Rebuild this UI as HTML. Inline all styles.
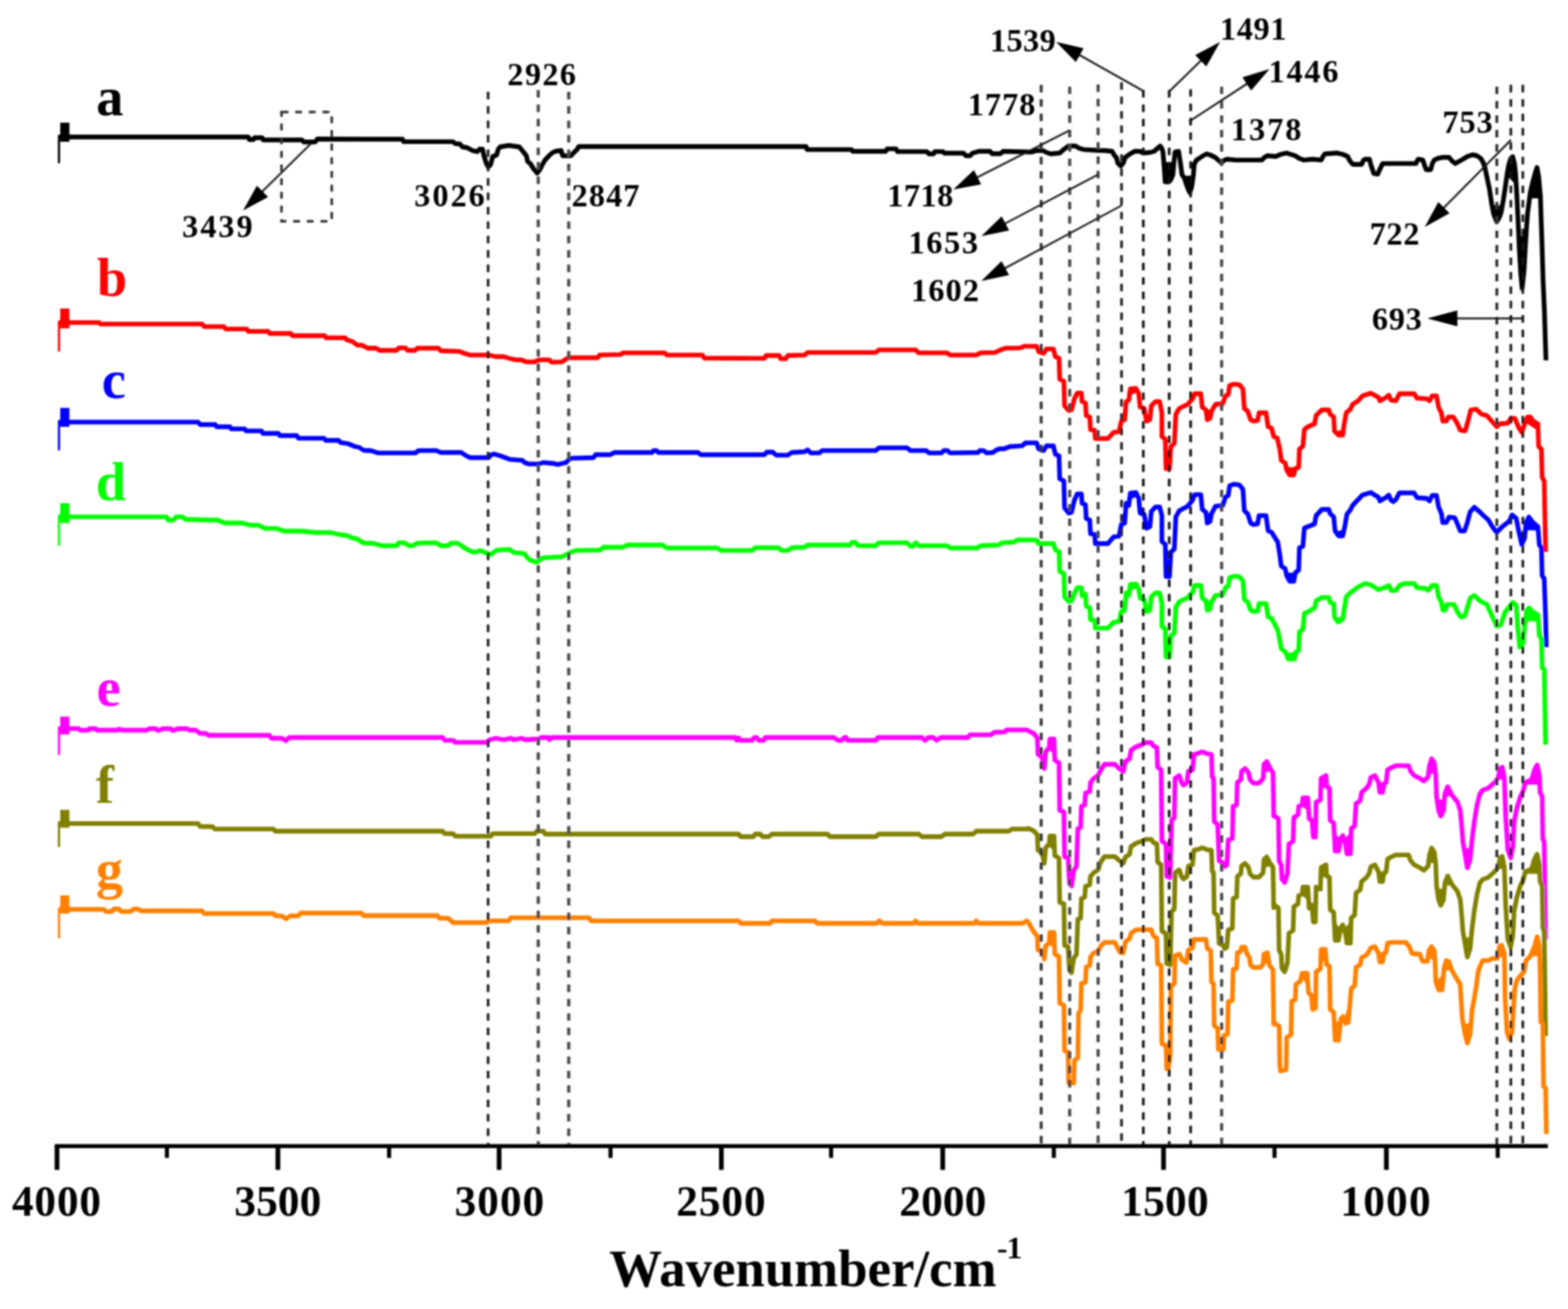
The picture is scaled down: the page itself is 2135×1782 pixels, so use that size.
<!DOCTYPE html>
<html lang="en"><head><meta charset="utf-8"><title>FTIR spectra</title>
<style>html,body{margin:0;padding:0;background:#fff}svg{display:block}text{font-family:"Liberation Serif","DejaVu Serif",serif;font-weight:bold;fill:#000}.n{font-size:44px}.t{font-size:59px}.l{font-size:74px}</style></head><body>
<svg width="2135" height="1782" viewBox="0 0 2135 1782">
<rect width="2135" height="1782" fill="#fff"/>
<defs><filter id="soft" filterUnits="userSpaceOnUse" x="0" y="0" width="2135" height="1782"><feGaussianBlur stdDeviation="0.8"/></filter></defs>
<g filter="url(#soft)">
<g fill="none" stroke-linejoin="round" stroke-linecap="butt">
<line x1="80.3" y1="184.0" x2="80.3" y2="222.2" stroke="#000000" stroke-width="3"/>
<rect x="82" y="167.0" width="12.5" height="26.0" fill="#000000" stroke="none"/>
<polyline points="80.0,186.5 94.0,186.5 338.0,186.5 339.5,190.0 345.0,190.0 346.5,187.5 357.0,187.5 358.5,190.5 411.0,190.5 414.0,193.3 429.0,193.3 432.0,189.3 548.0,189.5 549.5,192.9 616.7,192.9 620.0,195.5 626.0,196.0 629.8,200.0 636.0,201.0 642.9,204.8 650.0,206.5 653.0,203.0 657.0,203.0 659.0,212.0 662.0,222.0 664.8,227.4 668.0,224.0 671.0,213.0 676.2,211.0 678.5,203.0 681.0,200.0 692.9,198.0 707.0,200.0 712.0,206.0 716.7,212.0 718.5,220.0 722.0,222.5 726.0,229.0 731.4,235.7 735.0,231.0 738.0,225.0 742.0,218.0 747.6,212.0 752.0,208.0 756.0,206.0 764.0,204.8 766.0,212.0 777.4,212.0 781.0,208.0 785.7,203.6 788.0,199.5 1097.6,199.5 1099.0,203.6 1159.5,203.6 1161.0,206.0 1206.0,206.0 1208.0,202.6 1220.0,202.6 1222.0,206.4 1262.0,206.4 1265.0,209.5 1271.0,209.5 1273.0,206.4 1284.0,206.4 1286.0,208.5 1312.0,208.5 1315.0,212.0 1321.0,212.0 1324.0,208.5 1333.0,206.0 1348.0,206.0 1351.0,209.3 1362.0,209.3 1366.0,206.0 1404.8,207.0 1412.0,205.0 1420.0,205.0 1426.0,208.0 1431.0,209.5 1442.9,208.3 1449.0,203.0 1454.8,198.8 1464.3,198.8 1470.0,202.0 1476.0,203.6 1495.0,204.8 1505.0,205.0 1514.3,206.0 1517.0,211.0 1520.0,214.3 1522.0,222.0 1526.0,226.0 1529.5,222.0 1532.0,214.3 1538.0,210.0 1545.0,206.0 1552.0,206.0 1557.0,208.3 1566.0,207.5 1571.4,206.0 1576.0,202.0 1579.8,198.8 1582.0,202.0 1583.5,207.0 1585.0,225.0 1586.5,247.6 1591.0,247.6 1594.0,245.0 1597.0,238.0 1598.5,220.0 1600.0,207.0 1604.8,206.0 1607.0,220.0 1609.5,238.0 1613.0,243.0 1615.0,250.0 1618.0,258.0 1620.0,262.0 1622.5,255.0 1625.0,238.0 1626.0,223.8 1629.0,218.0 1633.0,215.5 1638.0,212.0 1643.0,209.5 1648.0,211.0 1654.8,214.3 1660.0,219.0 1663.0,221.4 1667.0,218.0 1670.7,216.7 1682.6,217.9 1718.0,217.9 1722.0,214.0 1725.5,212.0 1737.0,213.0 1744.0,210.0 1751.7,208.3 1757.0,210.0 1763.6,212.0 1769.0,215.5 1775.5,217.9 1787.4,216.7 1799.0,217.9 1802.0,212.0 1804.0,209.5 1820.7,208.3 1828.0,210.0 1835.0,213.0 1838.0,219.0 1842.0,223.8 1854.0,223.8 1856.5,218.0 1858.8,216.7 1864.7,216.7 1866.5,224.0 1868.0,228.6 1870.5,236.0 1876.0,237.0 1878.5,231.0 1882.6,222.6 1928.0,222.6 1930.0,218.0 1931.4,216.7 1937.4,217.9 1940.0,226.0 1942.0,231.0 1948.0,231.0 1950.5,222.0 1952.9,217.9 1958.0,215.5 1963.6,214.3 1973.0,214.3 1977.0,219.0 1981.4,222.6 1986.0,220.0 1992.0,216.7 1998.0,213.0 2005.0,210.7 2011.0,212.0 2016.0,215.5 2019.5,221.0 2022.0,228.6 2025.0,243.0 2028.0,257.0 2031.0,277.0 2034.0,292.0 2038.0,302.0 2041.5,296.0 2044.0,289.0 2047.0,272.0 2049.5,255.5 2052.0,238.0 2054.0,225.8 2057.0,216.0 2059.7,213.3 2062.0,222.0 2063.5,235.0 2065.4,267.0 2067.0,300.0 2068.5,335.0 2070.5,370.0 2072.5,392.4 2075.0,370.0 2077.0,335.0 2078.5,310.0 2080.0,289.7 2082.0,275.0 2083.7,262.0 2086.0,252.0 2088.0,244.0 2090.5,235.0 2092.8,228.0 2095.0,240.0 2097.4,267.0 2098.5,300.0 2099.7,335.0 2101.0,380.0 2103.0,426.6 2104.0,460.0 2105.0,490.5" stroke="#000000" stroke-width="6.4"/>
<polygon points="1584.7,221.8 1584.8,223.0 1584.9,224.2 1585.0,225.4 1585.1,226.6 1585.2,227.8 1585.3,229.0 1585.3,230.2 1585.4,231.5 1585.5,232.7 1585.6,233.9 1585.7,235.1 1585.8,236.3 1585.8,237.5 1585.9,238.7 1586.0,239.9 1586.1,241.1 1586.2,242.4 1586.2,243.6 1586.3,244.8 1586.4,246.0 1586.5,247.2 1587.3,247.6 1588.5,247.6 1589.8,247.6 1591.0,247.6 1592.0,246.7 1593.0,245.9 1594.0,245.0 1594.5,243.9 1594.9,242.8 1595.4,241.7 1595.9,240.6 1596.4,239.5 1596.8,238.4 1597.1,237.2 1597.2,236.0 1597.3,234.8 1597.4,233.6 1597.5,232.4 1597.6,231.2 1597.7,230.0 1597.8,228.8 1597.9,227.6 1598.0,226.4 1598.1,225.2 1598.2,224.0 1598.3,222.8 1598.4,221.6 1598.4,221.6" fill="#000000" stroke="#000000" stroke-width="1.5" stroke-linejoin="round"/>
<polygon points="1610.9,240.0 1611.6,241.0 1612.3,242.0 1613.0,243.0 1613.3,244.2 1613.7,245.3 1614.0,246.5 1614.3,247.7 1614.7,248.8 1615.0,250.0 1615.4,251.1 1615.9,252.3 1616.3,253.4 1616.7,254.6 1617.1,255.7 1617.6,256.9 1618.0,258.0 1618.5,259.1 1619.1,260.2 1619.6,261.3 1620.1,261.6 1620.6,260.4 1621.0,259.3 1621.4,258.1 1621.8,256.9 1622.2,255.8 1622.6,254.6 1622.7,253.4 1622.9,252.2 1623.1,251.0 1623.3,249.7 1623.5,248.5 1623.6,247.3 1623.8,246.1 1624.0,244.9 1624.2,243.7 1624.3,242.5 1624.5,241.2 1624.7,240.0 1624.7,240.0" fill="#000000" stroke="#000000" stroke-width="1.5" stroke-linejoin="round"/>
<polygon points="2031.6,280.2 2031.9,281.3 2032.1,282.5 2032.3,283.7 2032.6,284.9 2032.8,286.1 2033.1,287.3 2033.3,288.4 2033.5,289.6 2033.8,290.8 2034.0,292.0 2034.5,293.2 2034.9,294.3 2035.4,295.5 2035.8,296.6 2036.3,297.8 2036.8,298.9 2037.2,300.1 2037.7,301.2 2038.2,301.6 2038.8,300.6 2039.4,299.5 2040.1,298.5 2040.7,297.4 2041.3,296.4 2041.8,295.2 2042.2,294.1 2042.6,292.9 2043.0,291.7 2043.4,290.6 2043.9,289.4 2044.1,288.2 2044.3,287.0 2044.6,285.8 2044.8,284.7 2045.0,283.5 2045.2,282.3 2045.4,281.1 2045.5,280.3" fill="#000000" stroke="#000000" stroke-width="1.5" stroke-linejoin="round"/>
<polygon points="2052.0,238.0 2052.2,236.8 2052.4,235.6 2052.6,234.3 2052.8,233.1 2053.0,231.9 2053.2,230.7 2053.4,229.5 2053.6,228.2 2053.8,227.0 2054.0,225.8 2054.4,224.6 2054.7,223.4 2055.1,222.3 2055.4,221.1 2055.8,219.9 2056.2,218.7 2056.5,217.6 2056.9,216.4 2057.6,215.4 2058.5,214.5 2059.4,213.6 2059.9,214.1 2060.2,215.3 2060.5,216.5 2060.8,217.7 2061.2,218.8 2061.5,220.0 2061.8,221.2 2062.0,222.4 2062.2,223.6 2062.3,224.8 2062.5,226.1 2062.6,227.3 2062.8,228.5 2062.9,229.7 2063.0,230.9 2063.2,232.2 2063.3,233.4 2063.5,234.6 2063.5,235.8 2063.6,237.0 2063.7,238.2 2063.8,239.4 2063.8,240.6 2063.9,241.8 2064.0,243.0 2064.0,244.2 2064.1,245.4 2064.2,246.6 2064.3,247.8 2064.3,249.0 2064.4,250.2 2064.4,251.0" fill="#000000" stroke="#000000" stroke-width="1.5" stroke-linejoin="round"/>
<polygon points="2068.0,322.5 2068.0,323.7 2068.1,324.9 2068.1,326.1 2068.2,327.4 2068.2,328.6 2068.3,329.8 2068.3,331.0 2068.4,332.2 2068.4,333.4 2068.5,334.6 2068.5,335.8 2068.6,337.0 2068.7,338.2 2068.8,339.4 2068.8,340.6 2068.9,341.8 2069.0,343.0 2069.0,344.3 2069.1,345.5 2069.2,346.7 2069.2,347.9 2069.3,349.1 2069.4,350.3 2069.4,351.5 2069.5,352.7 2069.6,353.9 2069.6,355.1 2069.7,356.3 2069.8,357.5 2069.9,358.7 2069.9,359.9 2070.0,361.1 2070.1,362.4 2070.1,363.6 2070.2,364.8 2070.3,366.0 2070.3,367.2 2070.4,368.4 2070.5,369.6 2070.6,370.8 2070.7,372.0 2070.8,373.2 2070.9,374.4 2071.0,375.6 2071.1,376.8 2071.2,378.0 2071.3,379.2 2071.4,380.4 2071.5,381.6 2071.6,382.8 2071.8,384.0 2071.9,385.2 2072.0,386.4 2072.1,387.6 2072.2,388.8 2072.3,390.0 2072.4,391.2 2072.5,392.4 2072.6,391.2 2072.8,390.0 2072.9,388.8 2073.0,387.6 2073.2,386.4 2073.3,385.2 2073.4,384.0 2073.6,382.8 2073.7,381.6 2073.8,380.4 2074.0,379.2 2074.1,378.0 2074.2,376.8 2074.4,375.6 2074.5,374.4 2074.6,373.2 2074.8,372.0 2074.9,370.8 2075.0,369.6 2075.1,368.4 2075.2,367.2 2075.2,366.0 2075.3,364.8 2075.4,363.6 2075.4,362.4 2075.5,361.1 2075.6,359.9 2075.6,358.7 2075.7,357.5 2075.8,356.3 2075.9,355.1 2075.9,353.9 2076.0,352.7 2076.1,351.5 2076.1,350.3 2076.2,349.1 2076.3,347.9 2076.3,346.7 2076.4,345.5 2076.5,344.3 2076.5,343.0 2076.6,341.8 2076.7,340.6 2076.7,339.4 2076.8,338.2 2076.9,337.0 2077.0,335.8 2077.0,334.6 2077.1,333.4 2077.2,332.2 2077.2,331.0 2077.3,329.8 2077.4,328.5 2077.5,327.3 2077.5,326.1 2077.6,324.9 2077.7,323.7 2077.8,322.5 2077.8,322.5" fill="#000000" stroke="#000000" stroke-width="1.5" stroke-linejoin="round"/>
<line x1="80.3" y1="437.0" x2="80.3" y2="478.5" stroke="#ff0000" stroke-width="3"/>
<rect x="82" y="420.0" width="12.5" height="27.0" fill="#ff0000" stroke="none"/>
<polyline points="80.0,439.2 94.0,439.2 135.0,439.2 136.5,441.2 275.3,441.2 278.0,444.7 305.0,444.7 307.0,447.8 336.0,447.8 338.0,451.2 365.0,451.2 367.0,454.0 396.0,454.0 398.0,457.0 442.0,457.0 444.0,459.8 470.0,459.8 472.0,462.6 480.0,465.0 486.4,469.8 493.0,470.0 500.7,474.0 512.0,474.0 517.0,477.0 540.0,477.0 543.0,473.6 552.0,473.6 555.0,477.0 565.0,477.0 568.5,474.0 597.0,474.0 600.0,477.5 625.5,478.4 632.0,481.0 639.8,483.3 665.4,483.3 675.0,485.5 685.4,485.5 694.0,488.0 702.5,489.8 710.0,490.0 716.8,492.7 728.0,492.7 733.9,489.8 748.0,489.8 751.0,493.2 765.0,492.7 769.0,490.0 773.8,487.0 813.7,487.0 816.6,483.3 845.0,482.7 848.0,480.4 905.0,480.4 907.9,483.3 956.4,483.3 959.0,487.5 1041.0,487.8 1043.0,484.0 1061.0,484.0 1063.0,488.4 1070.0,488.4 1072.6,484.0 1095.5,483.3 1099.7,479.8 1192.4,479.8 1196.7,476.4 1246.6,476.4 1251.0,480.4 1289.4,480.4 1293.7,483.3 1329.0,483.3 1335.0,480.4 1355.0,479.8 1360.7,477.0 1369.0,474.0 1389.0,473.6 1395.0,471.3 1400.0,471.3 1400.0,471.4 1411.4,471.4 1414.3,479.0 1421.0,481.0 1424.8,475.2 1434.3,475.2 1437.0,485.7 1442.0,487.6 1442.9,516.2 1448.6,519.0 1449.5,552.4 1455.2,559.0 1459.0,558.0 1462.9,542.9 1466.7,535.2 1472.4,535.2 1473.3,546.7 1478.0,548.6 1479.0,565.7 1483.8,567.6 1484.8,584.8 1490.5,585.7 1491.4,597.0 1508.6,597.0 1516.2,588.6 1523.8,587.6 1526.7,573.3 1531.4,571.4 1533.3,546.7 1537.0,544.8 1539.0,529.5 1546.7,528.6 1550.5,536.0 1552.4,554.3 1558.0,556.0 1561.0,573.3 1565.7,571.4 1567.6,552.4 1573.3,546.7 1579.0,546.7 1582.0,562.0 1582.0,594.3 1586.7,598.0 1587.6,638.0 1592.4,638.0 1594.3,607.6 1599.0,603.8 1601.0,563.8 1605.7,556.0 1617.0,550.5 1623.8,542.9 1626.7,536.0 1635.0,536.0 1637.0,554.3 1642.0,558.0 1643.8,571.4 1647.6,569.5 1649.5,560.0 1655.0,550.5 1664.8,549.5 1668.6,539.0 1672.4,537.0 1674.3,524.8 1680.0,522.9 1687.6,523.8 1692.4,529.5 1694.3,556.0 1699.0,560.0 1702.9,571.4 1706.7,573.3 1712.4,572.4 1714.3,562.0 1723.8,562.0 1726.7,581.0 1731.4,582.9 1734.3,594.3 1739.0,596.2 1742.6,611.4 1744.5,626.7 1750.0,630.5 1752.0,640.0 1756.0,646.7 1761.7,646.7 1763.6,638.0 1768.3,636.2 1769.3,611.4 1774.0,607.6 1776.0,584.8 1780.7,581.0 1790.0,577.0 1792.0,565.7 1799.8,558.0 1809.3,558.0 1811.0,563.8 1816.0,567.6 1817.0,586.7 1822.6,592.4 1828.3,592.4 1830.0,579.0 1833.0,562.0 1838.8,557.0 1841.7,550.5 1849.3,545.7 1855.0,539.0 1866.4,535.2 1877.0,541.0 1878.8,545.7 1887.4,541.0 1891.0,538.0 1894.0,544.8 1900.7,545.7 1905.5,536.0 1925.5,536.0 1929.3,542.0 1942.6,542.9 1946.4,545.7 1950.0,539.0 1956.0,539.0 1958.8,554.3 1962.6,562.0 1964.5,573.3 1969.3,573.3 1972.0,567.6 1978.8,567.6 1984.5,577.0 1988.3,585.7 1995.0,586.7 1998.8,573.3 2002.6,558.0 2010.0,557.0 2017.0,563.8 2024.5,565.7 2032.0,574.3 2037.9,581.0 2041.7,577.0 2053.0,576.2 2057.0,569.5 2062.6,569.5 2067.4,581.0 2072.0,588.6 2076.0,577.0 2079.8,567.6 2083.6,567.6 2087.4,573.3 2094.0,577.0 2095.0,607.6 2098.8,611.4 2099.8,649.5 2102.6,655.2 2103.6,706.7 2104.5,751.4" stroke="#ff0000" stroke-width="6.3"/>
<polygon points="1642.1,558.4 1642.2,559.6 1642.4,560.8 1642.5,562.1 1642.7,563.3 1642.9,564.5 1643.0,565.7 1643.2,566.9 1643.4,568.2 1643.5,569.4 1643.7,570.6 1644.2,571.2 1645.3,570.6 1646.5,570.1 1647.6,569.5 1647.8,568.3 1648.1,567.1 1648.3,565.9 1648.5,564.8 1648.8,563.6 1649.0,562.4 1649.3,561.2 1649.5,560.0 1650.1,558.9 1650.3,558.6" fill="#ff0000" stroke="#ff0000" stroke-width="1.5" stroke-linejoin="round"/>
<polygon points="1537.9,537.6 1538.1,536.3 1538.3,535.1 1538.4,533.9 1538.6,532.7 1538.7,531.5 1538.9,530.3 1539.4,529.5 1540.6,529.3 1541.8,529.2 1543.1,529.0 1544.3,528.9 1545.5,528.7 1546.7,528.6 1547.3,529.7 1547.8,530.8 1548.4,531.9 1549.0,533.0 1549.0,533.0" fill="#ff0000" stroke="#ff0000" stroke-width="1.5" stroke-linejoin="round"/>
<polygon points="1751.2,636.0 1751.4,637.2 1751.7,638.4 1751.9,639.6 1752.4,640.7 1753.1,641.8 1753.7,642.8 1754.3,643.9 1754.9,644.9 1755.6,646.0 1756.4,646.7 1757.6,646.7 1758.8,646.7 1760.1,646.7 1761.3,646.7 1761.9,645.9 1762.1,644.7 1762.4,643.5 1762.7,642.4 1762.9,641.2 1763.2,640.0 1763.4,638.8 1764.0,637.9 1764.8,637.5" fill="#ff0000" stroke="#ff0000" stroke-width="1.5" stroke-linejoin="round"/>
<polygon points="1819.1,588.8 1819.9,589.7 1820.8,590.6 1821.7,591.5 1822.6,592.4 1823.8,592.4 1825.0,592.4 1826.3,592.4 1827.5,592.4 1828.4,592.0 1828.5,590.8 1828.7,589.6 1828.8,588.3 1829.0,587.1 1829.1,585.9 1829.3,584.7 1829.3,584.7" fill="#ff0000" stroke="#ff0000" stroke-width="1.5" stroke-linejoin="round"/>
<polygon points="2077.1,574.4 2077.5,573.2 2078.0,572.1 2078.4,571.0 2078.9,569.9 2079.3,568.7 2079.8,567.6 2081.1,567.6 2082.3,567.6 2083.6,567.6 2084.3,568.6 2084.9,569.6 2085.6,570.6 2086.3,571.6 2087.0,572.6 2087.8,573.5 2088.9,574.1 2090.0,574.7 2091.1,575.4 2092.2,576.0 2093.3,576.6 2094.0,577.4 2094.1,578.6 2094.1,579.8 2094.1,581.0 2094.2,582.2 2094.2,583.4 2094.2,584.6 2094.3,585.5" fill="#ff0000" stroke="#ff0000" stroke-width="1.5" stroke-linejoin="round"/>
<line x1="80.3" y1="572.3" x2="80.3" y2="613.2" stroke="#0000ff" stroke-width="3"/>
<rect x="82" y="555.3" width="12.5" height="25.7" fill="#0000ff" stroke="none"/>
<polyline points="80.0,574.7 94.0,574.7 269.6,574.7 272.5,578.0 293.0,578.0 295.0,581.0 313.0,581.0 315.0,583.9 333.0,583.9 335.0,586.7 356.0,586.7 358.0,590.0 379.0,590.0 381.0,593.0 404.0,593.0 406.5,596.7 441.0,596.7 443.6,599.5 461.0,599.5 463.6,602.4 474.0,604.0 483.5,608.0 489.0,609.0 495.0,613.0 505.0,613.5 515.0,616.7 565.6,616.7 570.0,613.3 594.0,613.3 600.0,616.0 628.0,616.0 634.0,620.0 639.8,623.0 665.4,623.0 669.0,619.0 672.6,618.0 682.5,621.0 694.0,625.3 711.0,626.7 715.0,630.0 719.6,631.6 733.9,631.6 739.6,629.6 753.9,631.0 759.6,632.4 765.0,631.0 771.0,629.6 774.0,626.0 776.7,623.9 808.0,623.0 810.9,619.0 830.9,619.0 836.6,616.0 887.9,616.0 890.0,613.3 894.0,613.3 896.5,616.0 950.7,616.0 954.0,619.0 1041.0,619.0 1044.0,615.5 1052.0,615.5 1057.0,619.6 1072.6,619.6 1078.0,616.0 1095.5,615.0 1099.7,612.5 1104.0,616.7 1115.4,616.7 1119.7,613.3 1192.4,613.3 1196.7,609.6 1235.0,609.6 1239.5,613.3 1261.0,613.3 1265.0,616.7 1282.0,616.7 1285.0,613.3 1290.0,613.3 1293.7,616.7 1332.0,616.0 1334.0,613.3 1339.0,613.3 1343.6,616.7 1352.0,616.0 1356.0,613.0 1360.7,611.0 1367.0,611.0 1375.0,608.0 1392.0,606.8 1396.0,603.0 1400.0,603.0 1400.0,602.9 1411.4,602.9 1414.3,611.2 1421.0,613.4 1424.8,607.0 1434.3,607.0 1437.0,618.5 1442.0,620.6 1442.9,651.8 1448.6,654.8 1449.5,691.3 1455.2,698.5 1459.0,697.4 1462.9,680.9 1466.7,672.5 1472.4,672.5 1473.3,685.1 1478.0,687.2 1479.0,705.8 1483.8,707.9 1484.8,726.7 1490.5,727.7 1491.4,740.0 1508.6,740.0 1516.2,730.9 1523.8,729.8 1526.7,714.1 1531.4,712.1 1533.3,685.1 1537.0,688.0 1539.0,671.3 1546.7,670.3 1550.5,678.4 1552.4,698.4 1558.0,700.3 1561.0,719.1 1565.7,717.1 1567.6,696.3 1573.3,690.1 1579.0,690.1 1582.0,701.8 1582.0,737.1 1586.7,741.1 1587.6,784.8 1592.4,784.8 1594.3,751.6 1599.0,747.4 1601.0,703.8 1605.7,695.3 1617.0,689.2 1623.8,680.9 1626.7,673.4 1635.0,673.4 1637.0,693.4 1642.0,697.4 1643.8,712.1 1647.6,710.0 1649.5,699.6 1655.0,689.2 1664.8,688.2 1668.6,676.7 1672.4,674.5 1674.3,661.2 1680.0,659.1 1687.6,660.1 1692.4,666.3 1694.3,695.3 1699.0,699.6 1702.9,712.1 1706.7,714.1 1712.4,713.2 1714.3,701.8 1723.8,701.8 1726.7,722.6 1731.4,724.6 1739.8,738.0 1742.6,755.0 1744.5,770.5 1750.0,774.3 1752.0,783.8 1756.0,791.4 1761.7,791.4 1763.6,780.0 1768.3,776.0 1769.3,745.7 1774.0,743.8 1776.0,719.0 1780.7,717.0 1790.0,713.3 1792.0,702.0 1799.8,693.5 1809.3,693.5 1811.0,699.0 1816.0,703.8 1817.9,722.9 1822.6,729.5 1828.3,729.5 1831.0,717.0 1834.0,700.0 1838.8,694.0 1841.7,688.0 1849.3,680.0 1855.0,674.0 1866.4,670.5 1877.0,677.0 1878.8,682.0 1887.4,677.0 1891.0,674.0 1894.0,681.0 1897.0,683.0 1900.7,680.0 1905.5,671.0 1925.5,671.0 1929.3,677.5 1942.6,678.5 1946.4,682.0 1950.0,674.5 1956.0,674.5 1958.8,690.0 1962.6,699.0 1964.5,711.4 1969.3,711.4 1973.0,703.8 1980.7,704.8 1984.5,713.3 1988.3,722.9 1994.0,722.9 1997.9,711.4 2001.7,697.0 2007.4,690.5 2015.0,697.0 2020.0,702.0 2026.4,707.6 2032.0,717.0 2037.9,724.8 2045.5,717.0 2055.0,709.5 2058.8,701.0 2064.5,705.7 2068.3,724.8 2072.0,741.0 2076.0,732.4 2077.9,711.4 2081.7,703.8 2087.4,711.4 2094.0,717.0 2096.0,742.0 2098.8,745.7 2099.8,783.8 2102.6,787.6 2104.5,841.0 2105.5,881.0" stroke="#0000ff" stroke-width="6.3"/>
<polygon points="1642.2,699.5 1642.4,700.7 1642.5,701.9 1642.7,703.1 1642.8,704.3 1643.0,705.6 1643.1,706.8 1643.3,708.0 1643.5,709.2 1643.6,710.4 1643.8,711.7 1644.6,711.7 1645.7,711.0 1646.8,710.4 1647.7,709.6 1647.9,708.4 1648.1,707.2 1648.3,706.0 1648.5,704.8 1648.8,703.6 1649.0,702.4 1649.2,701.2 1649.4,700.0 1649.7,699.3" fill="#0000ff" stroke="#0000ff" stroke-width="1.5" stroke-linejoin="round"/>
<polygon points="1538.0,679.3 1538.2,678.1 1538.3,676.9 1538.5,675.7 1538.6,674.5 1538.8,673.3 1538.9,672.1 1539.4,671.3 1540.6,671.1 1541.8,671.0 1543.1,670.8 1544.3,670.6 1545.5,670.5 1546.7,670.3 1547.2,671.4 1547.7,672.5 1548.3,673.6 1548.8,674.7 1548.9,675.1" fill="#0000ff" stroke="#0000ff" stroke-width="1.5" stroke-linejoin="round"/>
<polygon points="1751.3,780.6 1751.6,781.8 1751.8,783.0 1752.2,784.2 1752.8,785.2 1753.3,786.3 1753.9,787.4 1754.5,788.5 1755.0,789.6 1755.6,790.7 1756.4,791.4 1757.6,791.4 1758.8,791.4 1760.1,791.4 1761.3,791.4 1761.8,790.6 1762.0,789.4 1762.2,788.1 1762.4,786.9 1762.7,785.7 1762.9,784.5 1763.1,783.3 1763.3,782.0 1763.5,780.8 1763.5,780.4" fill="#0000ff" stroke="#0000ff" stroke-width="1.5" stroke-linejoin="round"/>
<polygon points="1819.1,724.5 1819.8,725.5 1820.5,726.5 1821.2,727.5 1821.9,728.5 1822.6,729.5 1823.8,729.5 1825.0,729.5 1826.3,729.5 1827.5,729.5 1828.4,729.1 1828.6,727.9 1828.9,726.7 1829.2,725.5 1829.4,724.3 1829.7,723.0 1830.0,721.8 1830.0,721.8" fill="#0000ff" stroke="#0000ff" stroke-width="1.5" stroke-linejoin="round"/>
<polygon points="2077.0,721.1 2077.1,719.9 2077.2,718.7 2077.4,717.5 2077.5,716.2 2077.6,715.0 2077.7,713.8 2077.8,712.6 2077.9,711.4 2078.4,710.3 2079.0,709.2 2079.5,708.1 2080.1,707.1 2080.6,706.0 2081.2,704.9 2081.7,703.8 2082.4,704.8 2083.2,705.8 2083.9,706.8 2084.7,707.8 2085.4,708.8 2086.2,709.7 2086.9,710.7 2087.7,711.7 2088.7,712.5 2089.6,713.3 2090.5,714.1 2091.5,714.9 2092.4,715.7 2093.4,716.5 2094.0,717.4 2094.1,718.6 2094.2,719.8 2094.3,721.0 2094.4,721.4" fill="#0000ff" stroke="#0000ff" stroke-width="1.5" stroke-linejoin="round"/>
<line x1="80.3" y1="701.0" x2="80.3" y2="742.8" stroke="#00ff00" stroke-width="3"/>
<rect x="82" y="685.0" width="12.5" height="27.0" fill="#00ff00" stroke="none"/>
<polyline points="80.0,703.6 94.0,703.6 226.8,703.6 229.0,708.0 236.0,708.0 240.0,703.6 248.0,703.6 252.5,707.0 286.7,708.0 296.0,708.0 306.7,712.0 330.0,712.0 341.0,715.0 352.0,715.0 361.0,719.3 376.0,719.3 386.6,723.0 410.0,723.0 429.4,725.0 450.0,725.0 463.6,728.0 472.0,729.0 480.7,732.7 487.0,734.0 495.0,739.3 507.0,739.5 520.0,742.8 540.0,742.8 543.0,738.8 550.0,738.8 557.0,742.8 562.0,742.8 568.5,739.4 594.0,738.8 600.0,742.8 610.0,742.8 614.0,739.4 622.6,739.4 627.0,742.0 631.0,745.0 638.0,749.0 645.5,752.0 654.0,749.4 660.0,752.0 668.0,755.0 672.0,752.0 676.8,748.8 694.0,748.0 699.7,752.2 714.0,753.6 717.0,758.0 721.0,762.0 726.0,764.0 731.0,765.6 735.0,762.0 739.6,759.3 765.0,758.0 769.0,756.0 773.8,753.6 779.0,751.0 785.0,749.4 816.6,748.8 822.0,745.0 848.0,745.0 853.7,742.0 902.0,742.0 907.9,746.0 976.0,746.0 982.0,749.4 1024.0,749.4 1028.4,745.7 1059.8,745.7 1064.0,749.4 1073.0,749.4 1078.0,745.7 1095.5,745.0 1099.7,742.0 1156.8,742.0 1160.0,738.5 1165.0,738.5 1168.0,742.8 1192.4,742.8 1196.7,738.8 1235.0,738.8 1239.5,743.7 1243.0,743.7 1246.6,738.8 1251.0,742.8 1289.4,742.8 1293.7,746.0 1330.8,746.0 1335.0,742.8 1359.0,742.0 1365.0,738.8 1380.7,738.0 1385.0,735.0 1400.0,735.0 1400.0,735.2 1411.4,735.2 1414.3,740.0 1421.0,740.0 1424.8,740.0 1434.3,740.0 1437.0,748.9 1442.0,750.7 1442.9,778.0 1448.6,780.7 1449.5,812.6 1455.2,818.9 1459.0,817.9 1462.9,807.5 1466.7,800.1 1472.4,800.1 1473.3,811.1 1478.0,808.9 1479.0,825.3 1483.8,827.1 1484.8,843.5 1490.5,844.4 1491.4,855.1 1508.6,855.1 1516.2,847.1 1523.8,846.2 1526.7,832.5 1531.4,830.7 1533.3,807.1 1537.0,810.3 1539.0,795.7 1546.7,794.8 1550.5,801.9 1552.4,814.4 1558.0,816.0 1561.0,832.5 1565.7,830.7 1567.6,812.6 1573.3,807.1 1579.0,807.1 1582.0,821.7 1582.0,852.6 1586.7,856.1 1587.6,894.3 1592.4,894.3 1594.3,865.3 1599.0,861.6 1601.0,826.4 1605.7,819.0 1617.0,813.7 1623.8,806.5 1626.7,796.9 1635.0,796.9 1637.0,814.4 1642.0,817.9 1643.8,830.7 1647.6,828.9 1649.5,819.8 1655.0,810.7 1664.8,809.8 1668.6,799.8 1672.4,797.8 1674.3,786.2 1680.0,784.4 1687.6,785.2 1692.4,790.7 1694.3,816.0 1699.0,819.8 1702.9,830.7 1706.7,832.5 1712.4,831.7 1714.3,821.7 1723.8,821.7 1726.7,839.9 1731.4,841.7 1739.8,858.0 1742.6,871.4 1744.5,882.9 1750.0,887.6 1754.0,897.0 1762.6,897.0 1764.5,887.6 1768.3,885.7 1769.3,860.0 1774.0,857.0 1776.0,835.0 1780.7,833.0 1790.0,827.6 1792.0,818.0 1799.8,813.3 1809.3,813.3 1811.0,820.0 1816.0,822.0 1817.0,840.0 1821.7,846.7 1828.3,842.9 1830.0,831.4 1833.0,812.4 1838.8,806.7 1849.3,799.0 1858.8,794.3 1866.4,796.2 1877.0,802.9 1887.4,799.0 1891.0,797.0 1894.0,803.8 1900.7,803.8 1905.5,797.0 1912.0,794.3 1925.5,794.3 1929.3,800.0 1940.7,801.0 1944.5,803.8 1950.0,797.0 1956.0,797.0 1958.8,812.4 1962.6,820.0 1964.5,830.5 1968.0,830.5 1970.0,822.9 1979.8,822.9 1984.5,833.3 1989.3,840.0 1994.0,839.0 1997.9,827.6 2001.7,814.3 2007.4,810.5 2015.0,818.0 2024.5,822.9 2030.0,835.0 2037.9,852.4 2043.6,850.5 2049.3,833.3 2056.9,823.8 2059.8,820.0 2064.5,823.8 2066.4,852.4 2069.3,881.0 2074.0,875.0 2076.0,852.4 2078.8,831.4 2081.7,827.6 2087.4,833.3 2094.0,837.0 2096.0,865.7 2098.8,869.5 2099.8,909.5 2102.6,911.4 2103.6,966.7 2104.5,1013.8" stroke="#00ff00" stroke-width="6.3"/>
<polygon points="1642.0,817.9 1642.2,819.1 1642.3,820.3 1642.5,821.5 1642.7,822.7 1642.8,823.9 1643.0,825.1 1643.2,826.3 1643.3,827.5 1643.5,828.7 1643.7,829.9 1644.2,830.5 1645.3,830.0 1646.5,829.4 1647.6,828.9 1647.8,827.7 1648.1,826.5 1648.3,825.3 1648.6,824.2 1648.8,823.0 1649.1,821.8 1649.3,820.6 1649.7,819.5 1650.3,818.4 1650.3,818.4" fill="#00ff00" stroke="#00ff00" stroke-width="1.5" stroke-linejoin="round"/>
<polygon points="1537.9,803.8 1538.1,802.6 1538.2,801.4 1538.4,800.2 1538.6,798.9 1538.7,797.7 1538.9,796.5 1539.4,795.6 1540.6,795.5 1541.8,795.4 1543.1,795.2 1544.3,795.1 1545.5,795.0 1546.7,794.8 1547.3,795.9 1547.8,796.9 1548.4,798.0 1549.0,799.1 1549.0,799.1" fill="#00ff00" stroke="#00ff00" stroke-width="1.5" stroke-linejoin="round"/>
<polygon points="1751.1,890.2 1751.6,891.4 1752.1,892.5 1752.6,893.6 1753.0,894.7 1753.5,895.9 1754.0,897.0 1755.2,897.0 1756.5,897.0 1757.7,897.0 1758.9,897.0 1760.1,897.0 1761.4,897.0 1762.6,897.0 1762.8,895.8 1763.1,894.5 1763.3,893.3 1763.6,892.1 1763.8,890.9 1764.1,889.6 1764.3,888.4 1764.9,887.4 1764.9,887.4" fill="#00ff00" stroke="#00ff00" stroke-width="1.5" stroke-linejoin="round"/>
<polygon points="1819.1,843.0 1819.8,844.0 1820.5,845.0 1821.2,846.0 1822.0,846.5 1823.1,845.9 1824.1,845.3 1825.2,844.7 1826.2,844.1 1827.3,843.5 1828.3,842.9 1828.5,841.7 1828.7,840.5 1828.8,839.3 1828.9,838.9" fill="#00ff00" stroke="#00ff00" stroke-width="1.5" stroke-linejoin="round"/>
<polygon points="2077.0,844.7 2077.2,843.5 2077.3,842.3 2077.5,841.1 2077.7,839.9 2077.8,838.7 2078.0,837.5 2078.2,836.2 2078.3,835.0 2078.5,833.8 2078.6,832.6 2078.8,831.4 2079.6,830.4 2080.4,829.3 2081.2,828.3 2082.0,827.9 2082.8,828.7 2083.7,829.6 2084.6,830.5 2085.4,831.3 2086.3,832.2 2087.1,833.0 2088.1,833.7 2089.2,834.3 2090.3,834.9 2091.4,835.6 2092.5,836.2 2093.6,836.8 2094.1,837.8 2094.1,839.0 2094.2,840.2 2094.3,841.4 2094.4,842.7 2094.5,843.9 2094.6,845.1 2094.6,845.5" fill="#00ff00" stroke="#00ff00" stroke-width="1.5" stroke-linejoin="round"/>
<line x1="80.3" y1="989.0" x2="80.3" y2="1027.8" stroke="#ff00ff" stroke-width="3"/>
<rect x="82" y="975.6" width="12.5" height="24.2" fill="#ff00ff" stroke="none"/>
<polyline points="80.0,991.8 94.0,991.8 107.0,991.8 109.0,994.0 120.0,994.0 122.0,992.0 130.0,992.0 132.0,994.0 160.0,994.0 162.0,992.5 166.0,994.0 200.0,994.0 203.0,992.0 212.0,992.0 215.0,994.5 222.0,992.0 232.0,992.0 235.0,994.5 242.0,992.0 255.0,992.0 258.0,994.0 266.8,994.0 272.5,998.4 280.0,998.4 284.0,1001.0 366.6,1001.0 369.4,1005.0 383.7,1005.0 389.4,1008.4 393.7,1004.0 602.7,1004.0 605.5,1007.8 617.0,1007.8 619.8,1010.7 662.6,1010.7 666.9,1007.0 675.0,1005.0 686.0,1007.0 695.0,1005.0 699.7,1007.0 710.0,1005.0 715.0,1007.0 733.9,1006.0 736.7,1004.0 746.0,1004.0 748.0,1007.0 751.0,1004.0 1001.0,1004.0 1003.0,1007.8 1006.0,1004.5 1008.0,1007.8 1024.0,1007.8 1027.0,1004.0 1030.0,1004.0 1033.0,1007.8 1040.0,1007.8 1042.0,1004.0 1135.4,1004.0 1141.0,1007.8 1146.0,1007.8 1149.7,1004.0 1152.0,1004.0 1154.0,1007.8 1192.4,1007.8 1195.3,1004.0 1255.0,1004.0 1259.5,1007.8 1263.7,1004.0 1271.0,1004.0 1275.0,1007.8 1280.9,1004.0 1318.0,1004.0 1320.8,1000.4 1349.3,1000.4 1353.6,997.0 1367.9,996.4 1370.7,993.6 1397.8,993.6 1400.0,994.8 1400.0,994.8 1407.6,998.6 1412.4,1004.3 1413.3,1027.0 1419.0,1031.0 1421.9,1046.2 1423.8,1023.3 1428.6,1017.6 1429.5,1006.2 1435.2,1006.2 1436.2,1034.8 1441.9,1038.6 1442.9,1103.3 1448.6,1105.2 1449.5,1166.2 1454.3,1168.0 1456.2,1202.4 1459.0,1206.2 1462.0,1185.0 1465.7,1179.5 1467.6,1128.0 1471.4,1126.2 1472.4,1097.6 1477.0,1095.7 1478.0,1079.5 1483.8,1077.6 1484.8,1065.2 1489.5,1059.5 1495.2,1055.7 1499.0,1048.0 1503.8,1040.5 1518.0,1040.5 1523.8,1046.2 1529.5,1050.0 1532.4,1036.7 1538.0,1032.9 1540.0,1021.4 1546.7,1016.7 1554.3,1013.8 1560.0,1011.0 1567.6,1011.0 1570.5,1015.7 1575.2,1017.6 1576.2,1044.3 1581.0,1048.0 1582.0,1145.2 1587.6,1149.0 1588.6,1192.9 1593.3,1194.8 1594.3,1152.9 1595.2,1116.7 1599.0,1112.9 1600.0,1059.5 1605.7,1055.7 1608.6,1065.2 1611.4,1069.0 1616.2,1065.2 1618.0,1050.0 1623.8,1048.0 1625.7,1027.0 1632.4,1025.2 1637.0,1023.3 1643.8,1026.2 1649.5,1027.0 1650.5,1057.6 1652.4,1059.5 1653.3,1118.6 1658.0,1122.4 1660.0,1172.0 1665.7,1174.8 1667.6,1179.5 1670.5,1177.6 1672.4,1143.3 1678.0,1141.4 1679.0,1097.6 1683.8,1095.7 1684.8,1065.2 1689.5,1061.4 1690.5,1050.0 1695.2,1046.2 1700.0,1051.9 1702.0,1061.4 1706.7,1066.2 1714.3,1066.2 1720.0,1059.5 1721.0,1040.5 1724.8,1036.7 1729.5,1046.2 1733.3,1051.9 1734.3,1111.0 1736.0,1111.0 1740.7,1114.8 1741.7,1172.0 1744.5,1177.6 1745.5,1196.7 1749.3,1201.4 1753.0,1189.0 1755.0,1149.0 1760.7,1145.2 1761.7,1112.9 1767.4,1109.0 1768.3,1097.6 1773.0,1095.7 1774.0,1086.2 1780.7,1086.2 1782.6,1114.8 1786.4,1116.7 1788.3,1139.5 1791.0,1139.5 1792.0,1092.0 1797.9,1089.0 1798.8,1059.5 1805.5,1055.7 1806.4,1071.0 1810.2,1072.9 1811.2,1116.7 1816.0,1120.5 1817.9,1158.6 1822.6,1158.6 1825.5,1141.4 1828.3,1137.6 1832.0,1149.0 1834.0,1162.4 1838.8,1162.4 1839.8,1128.0 1844.5,1124.3 1846.4,1093.8 1852.0,1090.0 1854.0,1078.6 1860.7,1072.9 1864.5,1067.0 1866.4,1058.6 1872.0,1055.7 1877.0,1065.2 1878.8,1078.6 1882.6,1078.6 1884.5,1067.0 1887.4,1065.2 1889.3,1048.0 1894.0,1045.2 1900.7,1042.4 1917.9,1042.4 1920.7,1050.0 1925.5,1055.7 1933.0,1059.5 1938.8,1063.3 1944.5,1057.6 1946.4,1042.4 1949.3,1032.9 1953.0,1038.6 1955.0,1055.7 1956.0,1084.3 1958.8,1103.3 1961.7,1111.0 1965.5,1103.3 1967.4,1080.5 1971.2,1071.0 1976.9,1082.4 1984.5,1092.0 1988.3,1103.3 1990.2,1124.3 1992.0,1147.0 1995.0,1164.3 1997.9,1181.4 2001.7,1170.0 2004.5,1141.4 2007.4,1118.6 2011.2,1095.7 2015.0,1080.5 2018.8,1075.7 2026.4,1072.9 2034.0,1066.2 2039.8,1059.5 2042.6,1046.2 2045.5,1044.3 2048.3,1059.5 2050.2,1112.9 2053.0,1156.7 2056.9,1168.0 2059.8,1152.9 2061.7,1118.6 2065.5,1099.5 2070.2,1084.3 2074.0,1076.7 2076.9,1065.2 2085.5,1061.4 2089.3,1048.0 2093.0,1041.4 2096.0,1055.7 2096.9,1078.6 2099.8,1084.3 2100.7,1141.4 2102.6,1147.0 2103.6,1217.6 2104.5,1279.0" stroke="#ff00ff" stroke-width="6.3"/>
<polygon points="1427.0,1019.5 1427.8,1018.5 1428.6,1017.6 1428.7,1016.4 1428.8,1015.2 1428.9,1013.9 1429.0,1012.7 1429.1,1011.5 1429.2,1010.3 1429.3,1009.1 1429.4,1007.8 1429.5,1006.6 1430.3,1006.2 1431.5,1006.2 1432.8,1006.2 1434.0,1006.2 1435.2,1006.2 1435.2,1007.4 1435.3,1008.6 1435.3,1009.8 1435.4,1011.0 1435.4,1012.2 1435.5,1013.5 1435.5,1014.7 1435.5,1015.9 1435.6,1017.1 1435.6,1018.3 1435.7,1019.5 1435.7,1020.7 1435.7,1021.9 1435.8,1023.1 1435.8,1024.3 1435.9,1025.5 1435.9,1025.9" fill="#ff00ff" stroke="#ff00ff" stroke-width="1.5" stroke-linejoin="round"/>
<polygon points="1720.5,1050.6 1720.5,1049.4 1720.6,1048.2 1720.7,1047.0 1720.7,1045.8 1720.8,1044.5 1720.9,1043.3 1720.9,1042.1 1721.0,1040.9 1721.6,1039.9 1722.5,1039.0 1723.3,1038.2 1724.2,1037.3 1725.0,1037.1 1725.5,1038.2 1726.1,1039.3 1726.6,1040.4 1727.2,1041.5 1727.7,1042.5 1728.2,1043.6 1728.8,1044.7 1729.3,1045.8 1729.9,1046.9 1730.6,1047.9 1731.3,1048.9 1731.3,1048.9" fill="#ff00ff" stroke="#ff00ff" stroke-width="1.5" stroke-linejoin="round"/>
<polygon points="1772.2,1096.0 1773.0,1095.3 1773.2,1094.0 1773.3,1092.8 1773.4,1091.6 1773.6,1090.3 1773.7,1089.1 1773.8,1087.9 1774.0,1086.6 1774.8,1086.2 1776.1,1086.2 1777.3,1086.2 1778.6,1086.2 1779.9,1086.2 1780.7,1086.6 1780.8,1087.8 1780.9,1089.0 1781.0,1090.2 1781.0,1091.4 1781.1,1092.6 1781.2,1093.9 1781.3,1095.1 1781.4,1096.3 1781.4,1097.5 1781.5,1098.7 1781.6,1099.9 1781.7,1101.1 1781.8,1102.3 1781.9,1103.5 1781.9,1103.9" fill="#ff00ff" stroke="#ff00ff" stroke-width="1.5" stroke-linejoin="round"/>
<polygon points="1785.6,1116.3 1786.4,1117.1 1786.5,1118.3 1786.6,1119.5 1786.7,1120.7 1786.8,1121.9 1786.9,1123.1 1787.0,1124.3 1787.1,1125.5 1787.2,1126.7 1787.3,1127.9 1787.4,1129.1 1787.5,1130.3 1787.6,1131.5 1787.7,1132.7 1787.8,1133.9 1787.9,1135.1 1788.0,1136.3 1788.1,1137.5 1788.2,1138.7 1788.8,1139.5 1790.1,1139.5 1791.0,1139.1 1791.0,1137.9 1791.1,1136.7 1791.1,1135.5 1791.1,1134.3 1791.1,1133.1 1791.2,1131.9 1791.2,1130.6 1791.2,1129.4 1791.2,1128.2 1791.3,1127.0 1791.3,1125.8 1791.3,1124.6 1791.3,1123.4 1791.4,1122.2 1791.4,1121.0 1791.4,1119.8 1791.4,1118.6 1791.5,1117.4 1791.5,1116.2 1791.5,1115.8" fill="#ff00ff" stroke="#ff00ff" stroke-width="1.5" stroke-linejoin="round"/>
<polygon points="1798.4,1071.6 1798.5,1070.4 1798.5,1069.2 1798.5,1068.0 1798.6,1066.8 1798.6,1065.6 1798.7,1064.3 1798.7,1063.1 1798.7,1061.9 1798.8,1060.7 1798.8,1059.5 1799.9,1058.9 1800.9,1058.3 1802.0,1057.7 1803.0,1057.1 1804.1,1056.5 1805.1,1055.9 1805.5,1056.5 1805.6,1057.7 1805.7,1058.9 1805.8,1060.1 1805.8,1061.3 1805.9,1062.5 1806.0,1063.8 1806.0,1065.0 1806.1,1066.2 1806.2,1067.4 1806.3,1068.6 1806.3,1069.8 1806.4,1071.0 1807.5,1071.6 1807.5,1071.6" fill="#ff00ff" stroke="#ff00ff" stroke-width="1.5" stroke-linejoin="round"/>
<polygon points="1816.6,1132.9 1816.7,1134.1 1816.7,1135.3 1816.8,1136.5 1816.9,1137.7 1816.9,1138.9 1817.0,1140.2 1817.0,1141.4 1817.1,1142.6 1817.2,1143.8 1817.2,1145.0 1817.3,1146.2 1817.3,1147.4 1817.4,1148.6 1817.5,1149.8 1817.5,1151.0 1817.6,1152.2 1817.6,1153.4 1817.7,1154.6 1817.8,1155.8 1817.8,1157.0 1817.9,1158.2 1818.8,1158.6 1820.0,1158.6 1821.3,1158.6 1822.6,1158.6 1822.8,1157.4 1823.0,1156.2 1823.2,1155.0 1823.4,1153.8 1823.6,1152.6 1823.8,1151.4 1824.0,1150.2 1824.2,1149.0 1824.4,1147.8 1824.6,1146.6 1824.8,1145.4 1825.0,1144.6" fill="#ff00ff" stroke="#ff00ff" stroke-width="1.5" stroke-linejoin="round"/>
<polygon points="1830.1,1143.1 1830.5,1144.3 1830.9,1145.5 1831.2,1146.6 1831.6,1147.8 1832.0,1149.0 1832.2,1150.2 1832.4,1151.4 1832.5,1152.7 1832.7,1153.9 1832.9,1155.1 1833.1,1156.3 1833.3,1157.5 1833.5,1158.7 1833.6,1160.0 1833.8,1161.2 1834.0,1162.4 1835.3,1162.4 1836.6,1162.4 1837.9,1162.4 1838.8,1162.0 1838.8,1160.8 1838.9,1159.6 1838.9,1158.4 1839.0,1157.2 1839.0,1156.0 1839.0,1154.8 1839.1,1153.6 1839.1,1152.4 1839.1,1151.2 1839.2,1150.0 1839.2,1148.8 1839.2,1147.6 1839.3,1146.4 1839.3,1145.2 1839.3,1144.0 1839.4,1142.8 1839.4,1141.6 1839.4,1140.4 1839.5,1139.2 1839.5,1138.0 1839.5,1136.8 1839.6,1135.6 1839.6,1134.4 1839.6,1134.4" fill="#ff00ff" stroke="#ff00ff" stroke-width="1.5" stroke-linejoin="round"/>
<polygon points="1877.1,1065.6 1877.2,1066.8 1877.4,1068.0 1877.5,1069.3 1877.7,1070.5 1877.9,1071.7 1878.0,1072.9 1878.2,1074.1 1878.4,1075.4 1878.5,1076.6 1878.7,1077.8 1879.2,1078.6 1880.5,1078.6 1881.8,1078.6 1882.7,1078.2 1882.9,1077.0 1883.1,1075.8 1883.3,1074.6 1883.5,1073.4 1883.6,1072.2 1883.8,1071.0 1884.0,1069.8 1884.2,1068.6 1884.4,1067.4 1885.2,1066.5 1885.2,1066.5" fill="#ff00ff" stroke="#ff00ff" stroke-width="1.5" stroke-linejoin="round"/>
<polygon points="1945.1,1052.8 1945.2,1051.6 1945.4,1050.4 1945.5,1049.2 1945.7,1048.0 1945.9,1046.8 1946.0,1045.6 1946.2,1044.4 1946.3,1043.2 1946.5,1042.0 1946.9,1040.8 1947.2,1039.6 1947.6,1038.4 1948.0,1037.3 1948.3,1036.1 1948.7,1034.9 1949.1,1033.7 1949.5,1033.3 1950.2,1034.3 1950.9,1035.4 1951.6,1036.5 1952.3,1037.5 1953.0,1038.6 1953.1,1039.8 1953.3,1041.0 1953.4,1042.2 1953.6,1043.4 1953.7,1044.6 1953.8,1045.8 1954.0,1047.0 1954.1,1048.1 1954.3,1049.3 1954.4,1050.5 1954.5,1051.7 1954.6,1052.5" fill="#ff00ff" stroke="#ff00ff" stroke-width="1.5" stroke-linejoin="round"/>
<polygon points="1956.7,1089.0 1956.9,1090.2 1957.0,1091.4 1957.2,1092.6 1957.4,1093.8 1957.6,1095.0 1957.8,1096.2 1957.9,1097.4 1958.1,1098.5 1958.3,1099.7 1958.5,1100.9 1958.6,1102.1 1958.8,1103.3 1959.2,1104.5 1959.7,1105.6 1960.1,1106.8 1960.5,1107.9 1961.0,1109.1 1961.4,1110.2 1961.9,1110.6 1962.4,1109.5 1963.0,1108.4 1963.5,1107.3 1964.1,1106.2 1964.6,1105.1 1965.1,1104.0 1965.5,1102.9 1965.6,1101.7 1965.7,1100.5 1965.8,1099.3 1965.9,1098.1 1966.0,1096.9 1966.1,1095.7 1966.2,1094.5 1966.3,1093.3 1966.4,1092.1 1966.5,1090.9 1966.6,1089.7 1966.7,1089.3" fill="#ff00ff" stroke="#ff00ff" stroke-width="1.5" stroke-linejoin="round"/>
<polygon points="1967.1,1083.7 1967.2,1082.5 1967.3,1081.3 1967.6,1080.1 1968.0,1079.0 1968.5,1077.8 1968.9,1076.7 1969.4,1075.6 1969.8,1074.4 1970.3,1073.3 1970.7,1072.1 1971.2,1071.0 1971.8,1072.1 1972.3,1073.2 1972.9,1074.3 1973.4,1075.4 1974.0,1076.5 1974.5,1077.6 1975.1,1078.7 1975.6,1079.8 1976.2,1080.9 1976.7,1082.0 1976.9,1082.4" fill="#ff00ff" stroke="#ff00ff" stroke-width="1.5" stroke-linejoin="round"/>
<polygon points="1993.5,1155.4 1993.7,1156.7 1993.9,1157.9 1994.1,1159.1 1994.3,1160.3 1994.5,1161.5 1994.7,1162.7 1994.9,1163.9 1995.1,1165.1 1995.3,1166.3 1995.5,1167.5 1995.7,1168.7 1995.9,1169.9 1996.1,1171.1 1996.3,1172.3 1996.6,1173.4 1996.8,1174.6 1997.0,1175.8 1997.2,1177.0 1997.4,1178.2 1997.6,1179.4 1997.8,1180.6 1998.0,1181.0 1998.4,1179.9 1998.8,1178.7 1999.2,1177.6 1999.5,1176.5 1999.9,1175.3 2000.3,1174.2 2000.7,1173.0 2001.1,1171.9 2001.4,1170.8 2001.7,1169.6 2001.9,1168.4 2002.0,1167.2 2002.1,1166.0 2002.2,1164.8 2002.3,1163.6 2002.4,1162.3 2002.6,1161.1 2002.7,1159.9 2002.8,1158.7 2002.9,1157.5 2003.0,1156.3 2003.1,1155.5" fill="#ff00ff" stroke="#ff00ff" stroke-width="1.5" stroke-linejoin="round"/>
<polygon points="2039.5,1059.8 2040.0,1058.7 2040.2,1057.5 2040.5,1056.3 2040.7,1055.1 2041.0,1053.9 2041.2,1052.6 2041.5,1051.4 2041.8,1050.2 2042.0,1049.0 2042.3,1047.8 2042.5,1046.6 2043.3,1045.7 2044.4,1045.0 2045.5,1044.3 2045.7,1045.5 2045.9,1046.7 2046.2,1047.9 2046.4,1049.1 2046.6,1050.3 2046.8,1051.5 2047.0,1052.7 2047.3,1053.9 2047.5,1055.1 2047.7,1056.3 2047.9,1057.5 2048.2,1058.7 2048.3,1059.9 2048.4,1061.1 2048.4,1061.1" fill="#ff00ff" stroke="#ff00ff" stroke-width="1.5" stroke-linejoin="round"/>
<polygon points="2076.4,1067.2 2076.7,1066.0 2077.3,1065.0 2078.4,1064.5 2079.5,1064.0 2080.6,1063.5 2081.8,1063.1 2082.9,1062.6 2084.0,1062.1 2085.1,1061.6 2085.7,1060.6 2086.1,1059.4 2086.4,1058.2 2086.7,1057.1 2087.1,1055.9 2087.4,1054.7 2087.7,1053.5 2088.1,1052.3 2088.4,1051.2 2088.7,1050.0 2089.1,1048.8 2089.5,1047.6 2090.1,1046.5 2090.7,1045.4 2091.4,1044.3 2092.0,1043.2 2092.6,1042.1 2093.1,1041.8 2093.3,1043.0 2093.6,1044.2 2093.8,1045.4 2094.1,1046.6 2094.3,1047.8 2094.6,1048.9 2094.8,1050.1 2095.1,1051.3 2095.3,1052.5 2095.6,1053.7 2095.8,1054.9 2096.0,1056.1 2096.1,1057.3 2096.1,1058.5 2096.2,1059.7 2096.2,1060.9 2096.3,1062.1 2096.3,1063.3 2096.3,1064.5 2096.4,1065.7 2096.4,1066.9 2096.5,1067.4" fill="#ff00ff" stroke="#ff00ff" stroke-width="1.5" stroke-linejoin="round"/>
<line x1="80.3" y1="1118.0" x2="80.3" y2="1153.2" stroke="#808000" stroke-width="3"/>
<rect x="82" y="1102.5" width="12.5" height="24.3" fill="#808000" stroke="none"/>
<polyline points="80.0,1121.2 94.0,1121.2 269.6,1121.2 272.5,1125.0 289.6,1125.5 292.4,1128.6 372.3,1128.6 375.0,1131.5 602.7,1131.5 605.5,1134.9 617.0,1135.0 619.8,1138.3 668.3,1138.3 671.0,1134.9 728.0,1134.9 731.0,1131.5 740.0,1131.5 742.4,1135.5 1005.6,1135.5 1008.5,1139.0 1025.6,1139.0 1028.4,1135.5 1035.0,1135.5 1038.4,1139.0 1047.0,1139.0 1051.0,1135.5 1126.8,1135.5 1129.7,1139.0 1192.4,1139.0 1196.7,1135.5 1251.0,1135.5 1255.0,1139.0 1282.0,1139.0 1286.6,1135.5 1325.0,1135.5 1329.3,1131.5 1373.6,1131.5 1377.8,1128.6 1399.0,1128.6 1400.0,1128.6 1400.0,1127.6 1407.6,1131.1 1412.4,1136.4 1413.3,1157.5 1419.0,1161.3 1421.9,1175.4 1423.8,1154.1 1428.6,1148.8 1429.5,1138.2 1435.2,1138.2 1436.2,1164.8 1441.9,1168.3 1442.9,1228.5 1448.6,1230.3 1449.5,1287.0 1454.3,1288.7 1456.2,1320.7 1459.0,1324.2 1462.0,1304.5 1465.7,1299.4 1467.6,1251.5 1471.4,1249.8 1472.4,1223.2 1477.0,1221.4 1478.0,1206.4 1483.8,1204.6 1484.8,1193.1 1489.5,1187.8 1495.2,1184.2 1499.0,1173.1 1503.8,1166.1 1518.0,1166.1 1523.8,1171.4 1529.5,1174.9 1532.4,1166.6 1538.0,1163.0 1540.0,1152.3 1546.7,1148.0 1554.3,1145.3 1560.0,1142.7 1567.6,1142.7 1570.5,1147.0 1575.2,1148.8 1576.2,1173.6 1581.0,1177.1 1582.0,1267.5 1587.6,1271.0 1588.6,1311.8 1593.3,1313.6 1594.3,1274.6 1595.2,1241.0 1599.0,1237.4 1600.0,1187.8 1605.7,1184.2 1608.6,1193.1 1611.4,1196.6 1616.2,1193.1 1618.0,1178.9 1623.8,1177.1 1625.7,1157.5 1632.4,1155.9 1637.0,1154.1 1643.8,1156.8 1649.5,1157.5 1650.5,1186.0 1652.4,1187.8 1653.3,1242.7 1658.0,1246.3 1660.0,1284.4 1665.7,1287.0 1667.6,1291.4 1670.5,1289.6 1672.4,1265.7 1678.0,1263.9 1679.0,1223.2 1683.8,1221.4 1684.8,1193.1 1689.5,1189.5 1690.5,1178.9 1695.2,1175.4 1700.0,1180.7 1702.0,1189.5 1706.7,1194.0 1714.3,1194.0 1720.0,1187.8 1721.0,1170.1 1724.8,1166.6 1729.5,1175.4 1733.3,1180.7 1734.3,1235.7 1736.0,1232.5 1740.7,1236.3 1741.7,1293.5 1744.5,1299.1 1745.5,1318.2 1749.3,1322.9 1753.0,1310.5 1755.0,1270.5 1760.7,1266.7 1761.7,1234.4 1767.4,1230.5 1768.3,1219.1 1773.0,1217.2 1774.0,1207.7 1780.7,1207.7 1782.6,1236.3 1786.4,1232.2 1788.3,1255.0 1791.0,1255.0 1792.0,1207.5 1797.9,1210.5 1798.8,1181.0 1805.5,1177.2 1806.4,1192.5 1810.2,1194.4 1811.2,1238.2 1816.0,1242.0 1817.9,1280.1 1822.6,1280.1 1825.5,1262.9 1828.3,1259.1 1832.0,1270.5 1834.0,1283.9 1838.8,1283.9 1839.8,1249.5 1844.5,1245.8 1846.4,1215.3 1852.0,1211.5 1854.0,1200.1 1860.7,1194.4 1864.5,1188.5 1866.4,1180.1 1872.0,1177.2 1877.0,1186.7 1878.8,1200.1 1882.6,1200.1 1884.5,1188.5 1887.4,1186.7 1889.3,1169.5 1894.0,1166.7 1900.7,1163.9 1917.9,1163.9 1920.7,1171.5 1925.5,1177.2 1933.0,1181.0 1938.8,1184.8 1944.5,1179.1 1946.4,1163.9 1949.3,1154.4 1953.0,1160.1 1955.0,1177.2 1956.0,1205.8 1958.8,1224.8 1961.7,1232.5 1965.5,1224.8 1967.4,1202.0 1971.2,1192.5 1976.9,1203.9 1984.5,1213.5 1988.3,1224.8 1990.2,1245.8 1992.0,1268.5 1995.0,1285.8 1997.9,1302.9 2001.7,1291.5 2004.5,1262.9 2007.4,1240.1 2011.2,1217.2 2015.0,1202.0 2018.8,1197.2 2026.4,1194.4 2034.0,1187.7 2039.8,1181.0 2042.6,1167.7 2045.5,1165.8 2048.3,1181.0 2050.2,1234.4 2053.0,1278.2 2056.9,1289.5 2059.8,1274.4 2061.7,1240.1 2065.5,1221.0 2070.2,1205.8 2074.0,1198.2 2076.9,1186.7 2085.5,1182.9 2089.3,1169.5 2093.0,1162.9 2096.0,1177.2 2096.9,1200.1 2099.8,1205.8 2100.7,1262.9 2102.6,1268.5 2103.6,1339.1 2104.5,1410.5" stroke="#808000" stroke-width="6.3"/>
<polygon points="1427.2,1150.4 1428.0,1149.4 1428.6,1148.4 1428.7,1147.2 1428.8,1145.9 1428.9,1144.7 1429.0,1143.5 1429.2,1142.3 1429.3,1141.1 1429.4,1139.8 1429.5,1138.6 1430.3,1138.2 1431.5,1138.2 1432.8,1138.2 1434.0,1138.2 1435.2,1138.2 1435.2,1139.4 1435.3,1140.6 1435.3,1141.8 1435.4,1143.0 1435.4,1144.2 1435.5,1145.5 1435.5,1146.7 1435.6,1147.9 1435.6,1149.1 1435.7,1150.3 1435.7,1151.5 1435.7,1152.7 1435.8,1153.9 1435.8,1155.1 1435.9,1156.3 1435.9,1157.5 1435.9,1157.9" fill="#808000" stroke="#808000" stroke-width="1.5" stroke-linejoin="round"/>
<polygon points="1720.4,1180.5 1720.5,1179.3 1720.5,1178.1 1720.6,1176.9 1720.7,1175.7 1720.8,1174.5 1720.8,1173.3 1720.9,1172.1 1721.0,1170.9 1721.3,1169.8 1722.3,1168.9 1723.2,1168.0 1724.2,1167.2 1725.0,1166.9 1725.6,1168.0 1726.1,1169.0 1726.7,1170.1 1727.2,1171.2 1727.8,1172.2 1728.4,1173.3 1728.9,1174.3 1729.5,1175.4 1730.2,1176.4 1730.9,1177.4 1731.4,1178.1" fill="#808000" stroke="#808000" stroke-width="1.5" stroke-linejoin="round"/>
<polygon points="1772.2,1217.5 1773.0,1216.8 1773.2,1215.5 1773.3,1214.3 1773.4,1213.1 1773.6,1211.8 1773.7,1210.6 1773.8,1209.4 1774.0,1208.1 1774.8,1207.7 1776.1,1207.7 1777.3,1207.7 1778.6,1207.7 1779.9,1207.7 1780.7,1208.1 1780.8,1209.3 1780.9,1210.5 1781.0,1211.7 1781.0,1212.9 1781.1,1214.1 1781.2,1215.4 1781.3,1216.6 1781.4,1217.8 1781.4,1219.0 1781.5,1220.2 1781.6,1221.4 1781.7,1222.6 1781.8,1223.8 1781.9,1225.0 1781.9,1225.4" fill="#808000" stroke="#808000" stroke-width="1.5" stroke-linejoin="round"/>
<polygon points="1785.5,1233.1 1786.4,1232.2 1786.5,1233.4 1786.6,1234.6 1786.7,1235.8 1786.8,1237.0 1786.9,1238.2 1787.0,1239.4 1787.1,1240.6 1787.2,1241.8 1787.3,1243.0 1787.4,1244.2 1787.5,1245.4 1787.6,1246.6 1787.7,1247.8 1787.8,1249.0 1787.9,1250.2 1788.0,1251.4 1788.1,1252.6 1788.2,1253.8 1788.3,1255.0 1789.7,1255.0 1791.0,1255.0 1791.0,1253.8 1791.1,1252.6 1791.1,1251.4 1791.1,1250.2 1791.1,1249.0 1791.2,1247.8 1791.2,1246.5 1791.2,1245.3 1791.2,1244.1 1791.3,1242.9 1791.3,1241.7 1791.3,1240.5 1791.3,1239.3 1791.4,1238.1 1791.4,1236.9 1791.4,1235.7 1791.4,1234.5 1791.5,1233.3 1791.5,1232.1 1791.5,1231.2" fill="#808000" stroke="#808000" stroke-width="1.5" stroke-linejoin="round"/>
<polygon points="1798.4,1193.1 1798.5,1191.9 1798.5,1190.7 1798.5,1189.5 1798.6,1188.3 1798.6,1187.1 1798.7,1185.8 1798.7,1184.6 1798.7,1183.4 1798.8,1182.2 1798.8,1181.0 1799.9,1180.4 1800.9,1179.8 1802.0,1179.2 1803.0,1178.6 1804.1,1178.0 1805.1,1177.4 1805.5,1178.0 1805.6,1179.2 1805.7,1180.4 1805.8,1181.6 1805.8,1182.8 1805.9,1184.0 1806.0,1185.3 1806.0,1186.5 1806.1,1187.7 1806.2,1188.9 1806.3,1190.1 1806.3,1191.3 1806.4,1192.5 1807.5,1193.1 1807.5,1193.1" fill="#808000" stroke="#808000" stroke-width="1.5" stroke-linejoin="round"/>
<polygon points="1816.6,1254.4 1816.7,1255.6 1816.7,1256.8 1816.8,1258.0 1816.9,1259.2 1816.9,1260.4 1817.0,1261.7 1817.0,1262.9 1817.1,1264.1 1817.2,1265.3 1817.2,1266.5 1817.3,1267.7 1817.3,1268.9 1817.4,1270.1 1817.5,1271.3 1817.5,1272.5 1817.6,1273.7 1817.6,1274.9 1817.7,1276.1 1817.8,1277.3 1817.8,1278.5 1817.9,1279.7 1818.8,1280.1 1820.0,1280.1 1821.3,1280.1 1822.6,1280.1 1822.8,1278.9 1823.0,1277.7 1823.2,1276.5 1823.4,1275.3 1823.6,1274.1 1823.8,1272.9 1824.0,1271.7 1824.2,1270.5 1824.4,1269.3 1824.6,1268.1 1824.8,1266.9 1825.0,1266.1" fill="#808000" stroke="#808000" stroke-width="1.5" stroke-linejoin="round"/>
<polygon points="1830.1,1264.6 1830.5,1265.8 1830.9,1267.0 1831.2,1268.1 1831.6,1269.3 1832.0,1270.5 1832.2,1271.7 1832.4,1272.9 1832.5,1274.2 1832.7,1275.4 1832.9,1276.6 1833.1,1277.8 1833.3,1279.0 1833.5,1280.2 1833.6,1281.5 1833.8,1282.7 1834.0,1283.9 1835.3,1283.9 1836.6,1283.9 1837.9,1283.9 1838.8,1283.5 1838.8,1282.3 1838.9,1281.1 1838.9,1279.9 1839.0,1278.7 1839.0,1277.5 1839.0,1276.3 1839.1,1275.1 1839.1,1273.9 1839.1,1272.7 1839.2,1271.5 1839.2,1270.3 1839.2,1269.1 1839.3,1267.9 1839.3,1266.7 1839.3,1265.5 1839.4,1264.3 1839.4,1263.1 1839.4,1261.9 1839.5,1260.7 1839.5,1259.5 1839.5,1258.3 1839.6,1257.1 1839.6,1255.9 1839.6,1255.9" fill="#808000" stroke="#808000" stroke-width="1.5" stroke-linejoin="round"/>
<polygon points="1877.1,1187.1 1877.2,1188.3 1877.4,1189.5 1877.5,1190.8 1877.7,1192.0 1877.9,1193.2 1878.0,1194.4 1878.2,1195.6 1878.4,1196.9 1878.5,1198.1 1878.7,1199.3 1879.2,1200.1 1880.5,1200.1 1881.8,1200.1 1882.7,1199.7 1882.9,1198.5 1883.1,1197.3 1883.3,1196.1 1883.5,1194.9 1883.6,1193.7 1883.8,1192.5 1884.0,1191.3 1884.2,1190.1 1884.4,1188.9 1885.2,1188.0 1885.2,1188.0" fill="#808000" stroke="#808000" stroke-width="1.5" stroke-linejoin="round"/>
<polygon points="1945.1,1174.3 1945.2,1173.1 1945.4,1171.9 1945.5,1170.7 1945.7,1169.5 1945.9,1168.3 1946.0,1167.1 1946.2,1165.9 1946.3,1164.7 1946.5,1163.5 1946.9,1162.3 1947.2,1161.1 1947.6,1159.9 1948.0,1158.8 1948.3,1157.6 1948.7,1156.4 1949.1,1155.2 1949.5,1154.8 1950.2,1155.8 1950.9,1156.9 1951.6,1158.0 1952.3,1159.0 1953.0,1160.1 1953.1,1161.3 1953.3,1162.5 1953.4,1163.7 1953.6,1164.9 1953.7,1166.1 1953.8,1167.3 1954.0,1168.5 1954.1,1169.6 1954.3,1170.8 1954.4,1172.0 1954.5,1173.2 1954.6,1174.0" fill="#808000" stroke="#808000" stroke-width="1.5" stroke-linejoin="round"/>
<polygon points="1956.7,1210.5 1956.9,1211.7 1957.0,1212.9 1957.2,1214.1 1957.4,1215.3 1957.6,1216.5 1957.8,1217.7 1957.9,1218.9 1958.1,1220.0 1958.3,1221.2 1958.5,1222.4 1958.6,1223.6 1958.8,1224.8 1959.2,1226.0 1959.7,1227.1 1960.1,1228.3 1960.5,1229.4 1961.0,1230.6 1961.4,1231.7 1961.9,1232.1 1962.4,1231.0 1963.0,1229.9 1963.5,1228.8 1964.1,1227.7 1964.6,1226.6 1965.1,1225.5 1965.5,1224.4 1965.6,1223.2 1965.7,1222.0 1965.8,1220.8 1965.9,1219.6 1966.0,1218.4 1966.1,1217.2 1966.2,1216.0 1966.3,1214.8 1966.4,1213.6 1966.5,1212.4 1966.6,1211.2 1966.7,1210.8" fill="#808000" stroke="#808000" stroke-width="1.5" stroke-linejoin="round"/>
<polygon points="1967.1,1205.2 1967.2,1204.0 1967.3,1202.8 1967.6,1201.6 1968.0,1200.5 1968.5,1199.3 1968.9,1198.2 1969.4,1197.1 1969.8,1195.9 1970.3,1194.8 1970.7,1193.6 1971.2,1192.5 1971.8,1193.6 1972.3,1194.7 1972.9,1195.8 1973.4,1196.9 1974.0,1198.0 1974.5,1199.1 1975.1,1200.2 1975.6,1201.3 1976.2,1202.4 1976.7,1203.5 1976.9,1203.9" fill="#808000" stroke="#808000" stroke-width="1.5" stroke-linejoin="round"/>
<polygon points="1993.5,1276.9 1993.7,1278.2 1993.9,1279.4 1994.1,1280.6 1994.3,1281.8 1994.5,1283.0 1994.7,1284.2 1994.9,1285.4 1995.1,1286.6 1995.3,1287.8 1995.5,1289.0 1995.7,1290.2 1995.9,1291.4 1996.1,1292.6 1996.3,1293.8 1996.6,1294.9 1996.8,1296.1 1997.0,1297.3 1997.2,1298.5 1997.4,1299.7 1997.6,1300.9 1997.8,1302.1 1998.0,1302.5 1998.4,1301.4 1998.8,1300.2 1999.2,1299.1 1999.5,1298.0 1999.9,1296.8 2000.3,1295.7 2000.7,1294.5 2001.1,1293.4 2001.4,1292.3 2001.7,1291.1 2001.9,1289.9 2002.0,1288.7 2002.1,1287.5 2002.2,1286.3 2002.3,1285.1 2002.4,1283.8 2002.6,1282.6 2002.7,1281.4 2002.8,1280.2 2002.9,1279.0 2003.0,1277.8 2003.1,1277.0" fill="#808000" stroke="#808000" stroke-width="1.5" stroke-linejoin="round"/>
<polygon points="2039.5,1181.3 2040.0,1180.2 2040.2,1179.0 2040.5,1177.8 2040.7,1176.6 2041.0,1175.4 2041.2,1174.1 2041.5,1172.9 2041.8,1171.7 2042.0,1170.5 2042.3,1169.3 2042.5,1168.1 2043.3,1167.2 2044.4,1166.5 2045.5,1165.8 2045.7,1167.0 2045.9,1168.2 2046.2,1169.4 2046.4,1170.6 2046.6,1171.8 2046.8,1173.0 2047.0,1174.2 2047.3,1175.4 2047.5,1176.6 2047.7,1177.8 2047.9,1179.0 2048.2,1180.2 2048.3,1181.4 2048.4,1182.6 2048.4,1182.6" fill="#808000" stroke="#808000" stroke-width="1.5" stroke-linejoin="round"/>
<polygon points="2076.4,1188.7 2076.7,1187.5 2077.3,1186.5 2078.4,1186.0 2079.5,1185.5 2080.6,1185.0 2081.8,1184.6 2082.9,1184.1 2084.0,1183.6 2085.1,1183.1 2085.7,1182.1 2086.1,1180.9 2086.4,1179.7 2086.7,1178.6 2087.1,1177.4 2087.4,1176.2 2087.7,1175.0 2088.1,1173.8 2088.4,1172.7 2088.7,1171.5 2089.1,1170.3 2089.5,1169.1 2090.1,1168.0 2090.7,1166.9 2091.4,1165.8 2092.0,1164.7 2092.6,1163.6 2093.1,1163.3 2093.3,1164.5 2093.6,1165.7 2093.8,1166.9 2094.1,1168.1 2094.3,1169.3 2094.6,1170.4 2094.8,1171.6 2095.1,1172.8 2095.3,1174.0 2095.6,1175.2 2095.8,1176.4 2096.0,1177.6 2096.1,1178.8 2096.1,1180.0 2096.2,1181.2 2096.2,1182.4 2096.3,1183.6 2096.3,1184.8 2096.3,1186.0 2096.4,1187.2 2096.4,1188.4 2096.5,1188.9" fill="#808000" stroke="#808000" stroke-width="1.5" stroke-linejoin="round"/>
<line x1="80.3" y1="1236.0" x2="80.3" y2="1277.3" stroke="#ff8000" stroke-width="3"/>
<rect x="82" y="1218.9" width="12.5" height="24.8" fill="#ff8000" stroke="none"/>
<polyline points="80.0,1238.0 94.0,1238.0 141.0,1238.0 144.0,1240.8 152.0,1240.8 155.0,1237.5 162.0,1237.5 165.0,1240.8 178.0,1240.8 182.0,1237.5 188.0,1237.5 192.0,1240.0 275.0,1240.0 278.0,1243.7 372.3,1243.7 375.0,1246.5 383.7,1247.0 389.4,1250.8 395.0,1247.0 406.5,1246.5 409.4,1243.0 492.0,1243.0 495.0,1246.5 595.5,1246.5 598.4,1250.0 610.0,1250.0 617.0,1256.0 662.6,1256.0 665.4,1253.7 692.5,1253.7 695.4,1249.4 802.0,1249.4 805.0,1253.7 1005.6,1253.7 1008.5,1257.0 1048.4,1257.0 1051.0,1253.7 1109.7,1253.7 1112.6,1257.0 1193.9,1257.0 1196.7,1253.7 1198.0,1253.7 1201.0,1257.0 1243.8,1257.0 1246.6,1253.7 1249.5,1257.0 1326.5,1257.0 1329.3,1253.7 1332.0,1257.0 1392.0,1257.0 1397.8,1253.7 1400.0,1255.2 1400.0,1255.2 1407.6,1268.6 1412.4,1274.3 1413.3,1293.3 1419.0,1295.2 1421.9,1305.7 1423.8,1287.6 1428.6,1283.8 1429.5,1269.5 1435.2,1269.5 1436.2,1299.0 1441.9,1302.0 1442.9,1365.7 1448.6,1368.6 1449.5,1430.5 1454.3,1432.4 1455.2,1474.3 1462.0,1474.3 1462.9,1443.8 1467.6,1440.0 1468.6,1379.0 1471.4,1375.2 1472.4,1339.0 1478.0,1337.0 1479.0,1316.2 1483.8,1314.3 1484.8,1302.9 1489.5,1297.0 1495.2,1295.2 1499.0,1287.6 1503.8,1282.9 1518.0,1282.9 1522.0,1291.4 1525.7,1297.0 1529.5,1297.0 1532.4,1282.0 1538.0,1278.0 1540.0,1270.5 1546.7,1265.7 1567.6,1265.7 1570.5,1274.3 1575.2,1277.0 1576.2,1312.4 1581.0,1314.3 1582.0,1421.0 1587.6,1422.9 1588.6,1455.2 1591.0,1453.0 1593.3,1438.0 1594.3,1342.9 1599.0,1339.0 1600.0,1301.0 1605.7,1299.0 1609.5,1306.7 1615.2,1310.5 1618.0,1293.3 1623.8,1290.5 1625.7,1279.0 1642.0,1279.0 1643.8,1291.4 1648.6,1294.3 1649.5,1337.0 1652.4,1339.0 1653.3,1396.2 1658.0,1400.0 1659.0,1428.6 1665.7,1428.6 1666.7,1409.5 1671.4,1407.6 1672.4,1363.8 1678.0,1362.0 1679.0,1320.0 1683.8,1318.0 1684.8,1297.0 1689.5,1295.2 1690.5,1289.5 1695.2,1289.5 1698.0,1299.0 1701.0,1302.9 1702.9,1314.3 1706.7,1317.0 1716.2,1317.0 1720.0,1312.4 1721.0,1299.0 1725.7,1297.0 1728.6,1314.3 1733.3,1320.0 1734.3,1394.3 1736.0,1393.3 1741.7,1397.0 1742.6,1450.5 1743.6,1458.0 1751.2,1456.2 1752.0,1412.4 1757.9,1408.6 1758.8,1362.9 1763.6,1361.0 1764.5,1340.0 1770.2,1336.2 1773.0,1324.8 1779.8,1324.8 1781.7,1351.4 1785.5,1355.2 1787.4,1374.3 1791.2,1372.4 1792.0,1322.9 1797.9,1319.0 1798.8,1292.4 1804.5,1292.4 1806.4,1313.3 1810.2,1315.2 1811.2,1374.3 1816.0,1378.0 1817.9,1416.2 1822.6,1416.2 1825.5,1387.6 1828.3,1383.8 1832.0,1393.3 1836.0,1391.4 1839.8,1345.7 1844.5,1342.0 1846.4,1317.0 1852.0,1313.3 1854.0,1303.8 1860.7,1300.0 1864.5,1294.3 1866.4,1290.5 1872.0,1288.6 1877.0,1298.0 1878.8,1309.5 1882.6,1309.5 1884.5,1298.0 1887.4,1296.2 1889.3,1283.8 1895.0,1282.9 1914.0,1282.9 1918.8,1288.6 1922.6,1298.0 1933.0,1299.0 1937.0,1308.6 1943.6,1308.6 1945.5,1294.3 1949.3,1288.6 1953.0,1294.3 1954.0,1309.5 1955.0,1336.2 1958.8,1347.6 1963.6,1347.6 1966.4,1317.0 1969.3,1307.6 1973.0,1309.5 1976.9,1321.0 1984.5,1334.3 1988.3,1340.0 1989.3,1359.0 1991.2,1387.6 1995.0,1408.6 1997.9,1420.0 2001.7,1408.6 2004.5,1374.3 2007.4,1359.0 2010.2,1342.0 2013.0,1321.0 2018.8,1307.6 2026.4,1307.6 2032.0,1304.8 2038.8,1304.8 2041.7,1288.6 2044.5,1286.7 2048.3,1298.0 2049.3,1359.0 2052.0,1404.8 2055.0,1414.3 2058.8,1404.8 2060.7,1374.3 2062.6,1345.7 2065.5,1334.3 2070.2,1328.6 2075.0,1322.9 2077.9,1307.6 2083.6,1302.0 2089.3,1288.6 2093.0,1275.2 2096.0,1288.6 2096.9,1317.0 2097.9,1391.4 2100.7,1393.3 2101.7,1479.0 2104.5,1481.0 2105.5,1543.8" stroke="#ff8000" stroke-width="6.3"/>
<polygon points="1427.0,1285.1 1428.0,1284.3 1428.6,1283.4 1428.7,1282.2 1428.8,1280.9 1428.9,1279.7 1428.9,1278.5 1429.0,1277.3 1429.1,1276.0 1429.2,1274.8 1429.2,1273.6 1429.3,1272.4 1429.4,1271.1 1429.5,1269.9 1430.3,1269.5 1431.5,1269.5 1432.8,1269.5 1434.0,1269.5 1435.2,1269.5 1435.2,1270.7 1435.3,1271.9 1435.3,1273.1 1435.4,1274.3 1435.4,1275.6 1435.4,1276.8 1435.5,1278.0 1435.5,1279.2 1435.6,1280.4 1435.6,1281.6 1435.7,1282.8 1435.7,1284.0 1435.7,1285.3 1435.8,1286.5 1435.8,1287.7 1435.9,1288.9 1435.9,1289.3" fill="#ff8000" stroke="#ff8000" stroke-width="1.5" stroke-linejoin="round"/>
<polygon points="1720.1,1310.8 1720.2,1309.6 1720.3,1308.3 1720.4,1307.1 1720.5,1305.9 1720.6,1304.7 1720.7,1303.5 1720.8,1302.2 1720.8,1301.0 1720.9,1299.8 1721.4,1298.8 1722.6,1298.3 1723.7,1297.8 1724.9,1297.3 1725.8,1297.4 1726.0,1298.6 1726.2,1299.8 1726.4,1301.0 1726.6,1302.2 1726.8,1303.4 1727.0,1304.6 1727.2,1305.9 1727.4,1307.1 1727.6,1308.3 1727.8,1309.5 1728.0,1310.7 1728.0,1310.7" fill="#ff8000" stroke="#ff8000" stroke-width="1.5" stroke-linejoin="round"/>
<polygon points="1772.0,1328.7 1772.3,1327.6 1772.6,1326.4 1772.9,1325.2 1773.8,1324.8 1775.1,1324.8 1776.4,1324.8 1777.7,1324.8 1779.0,1324.8 1779.8,1325.2 1779.9,1326.4 1780.0,1327.6 1780.1,1328.8 1780.2,1330.0 1780.3,1331.2 1780.3,1332.5 1780.4,1333.7 1780.5,1334.9 1780.6,1336.1 1780.7,1337.3 1780.8,1338.5 1780.9,1339.7 1781.0,1340.9 1781.0,1342.1 1781.1,1342.5" fill="#ff8000" stroke="#ff8000" stroke-width="1.5" stroke-linejoin="round"/>
<polygon points="1785.5,1355.2 1785.6,1356.4 1785.7,1357.6 1785.9,1358.9 1786.0,1360.1 1786.1,1361.3 1786.2,1362.5 1786.3,1363.7 1786.5,1365.0 1786.6,1366.2 1786.7,1367.4 1786.8,1368.6 1787.0,1369.8 1787.1,1371.0 1787.2,1372.3 1787.3,1373.5 1787.8,1374.1 1788.9,1373.5 1790.1,1373.0 1791.2,1372.4 1791.2,1371.2 1791.2,1370.0 1791.3,1368.8 1791.3,1367.6 1791.3,1366.4 1791.3,1365.2 1791.3,1363.9 1791.4,1362.7 1791.4,1361.5 1791.4,1360.3 1791.4,1359.1 1791.4,1357.9 1791.5,1356.7 1791.5,1355.5 1791.5,1354.3 1791.5,1353.1 1791.5,1351.9 1791.6,1350.7 1791.6,1350.7" fill="#ff8000" stroke="#ff8000" stroke-width="1.5" stroke-linejoin="round"/>
<polygon points="1798.3,1308.1 1798.3,1306.9 1798.3,1305.7 1798.4,1304.5 1798.4,1303.3 1798.5,1302.1 1798.5,1300.9 1798.6,1299.7 1798.6,1298.4 1798.6,1297.2 1798.7,1296.0 1798.7,1294.8 1798.8,1293.6 1798.8,1292.4 1800.0,1292.4 1801.2,1292.4 1802.5,1292.4 1803.7,1292.4 1804.5,1292.8 1804.6,1294.0 1804.8,1295.2 1804.9,1296.4 1805.0,1297.6 1805.1,1298.8 1805.2,1300.0 1805.3,1301.2 1805.4,1302.4 1805.5,1303.7 1805.6,1304.9 1805.7,1306.1 1805.9,1307.3 1805.9,1308.1" fill="#ff8000" stroke="#ff8000" stroke-width="1.5" stroke-linejoin="round"/>
<polygon points="1816.6,1390.5 1816.7,1391.7 1816.7,1392.9 1816.8,1394.1 1816.9,1395.3 1816.9,1396.5 1817.0,1397.7 1817.0,1398.9 1817.1,1400.1 1817.2,1401.3 1817.2,1402.5 1817.3,1403.7 1817.3,1404.9 1817.4,1406.1 1817.5,1407.4 1817.5,1408.6 1817.6,1409.8 1817.6,1411.0 1817.7,1412.2 1817.8,1413.4 1817.8,1414.6 1817.9,1415.8 1818.8,1416.2 1820.0,1416.2 1821.3,1416.2 1822.6,1416.2 1822.7,1415.0 1822.8,1413.8 1823.0,1412.6 1823.1,1411.4 1823.2,1410.2 1823.3,1408.9 1823.5,1407.7 1823.6,1406.5 1823.7,1405.3 1823.8,1404.1 1823.9,1402.9 1824.1,1401.7 1824.2,1400.5 1824.3,1399.3 1824.4,1398.1 1824.6,1396.9 1824.7,1395.7 1824.8,1394.4 1824.9,1393.2 1825.0,1392.8" fill="#ff8000" stroke="#ff8000" stroke-width="1.5" stroke-linejoin="round"/>
<polygon points="1830.1,1388.4 1830.5,1389.5 1831.0,1390.6 1831.4,1391.8 1831.9,1392.9 1832.7,1393.0 1833.8,1392.4 1834.9,1391.9 1836.0,1391.4 1836.1,1390.2 1836.2,1389.0 1836.3,1387.8 1836.4,1386.6 1836.5,1385.4 1836.6,1384.2 1836.7,1383.0 1836.8,1381.8 1836.9,1380.6 1837.0,1379.4 1837.1,1378.2 1837.2,1377.0 1837.3,1375.8 1837.4,1374.6 1837.5,1373.4 1837.6,1372.2 1837.7,1371.0 1837.8,1369.8 1837.9,1368.6 1838.0,1367.3 1838.1,1366.1 1838.2,1365.3" fill="#ff8000" stroke="#ff8000" stroke-width="1.5" stroke-linejoin="round"/>
<polygon points="1876.2,1296.6 1876.8,1297.6 1877.1,1298.8 1877.3,1300.0 1877.5,1301.2 1877.7,1302.4 1877.9,1303.6 1878.1,1304.7 1878.2,1305.9 1878.4,1307.1 1878.6,1308.3 1878.8,1309.5 1880.1,1309.5 1881.3,1309.5 1882.6,1309.5 1882.8,1308.3 1883.0,1307.1 1883.2,1305.9 1883.4,1304.7 1883.6,1303.6 1883.8,1302.4 1884.0,1301.2 1884.2,1300.0 1884.4,1298.8 1884.9,1297.8 1885.2,1297.5" fill="#ff8000" stroke="#ff8000" stroke-width="1.5" stroke-linejoin="round"/>
<polygon points="1944.5,1301.4 1944.7,1300.3 1944.9,1299.1 1945.0,1297.9 1945.2,1296.7 1945.3,1295.5 1945.5,1294.3 1946.2,1293.3 1946.8,1292.3 1947.5,1291.3 1948.2,1290.3 1948.9,1289.3 1949.5,1289.0 1950.2,1290.0 1950.9,1291.1 1951.6,1292.2 1952.3,1293.2 1953.0,1294.3 1953.1,1295.5 1953.2,1296.7 1953.2,1297.9 1953.3,1299.1 1953.4,1300.3 1953.5,1301.5 1953.6,1302.7 1953.6,1303.9 1953.7,1305.1 1953.8,1306.3 1953.9,1307.5 1953.9,1308.3" fill="#ff8000" stroke="#ff8000" stroke-width="1.5" stroke-linejoin="round"/>
<polygon points="1955.5,1337.7 1955.9,1338.9 1956.3,1340.0 1956.6,1341.1 1957.0,1342.3 1957.4,1343.4 1957.8,1344.6 1958.2,1345.7 1958.5,1346.8 1959.2,1347.6 1960.5,1347.6 1961.9,1347.6 1963.2,1347.6 1963.7,1346.8 1963.8,1345.6 1963.9,1344.4 1964.0,1343.2 1964.1,1342.0 1964.2,1340.8 1964.3,1339.5 1964.4,1338.3 1964.6,1337.1 1964.7,1335.9 1964.8,1334.7 1964.9,1333.5 1965.0,1332.3 1965.1,1331.1 1965.2,1329.9 1965.3,1328.7 1965.4,1327.5 1965.6,1326.3 1965.6,1325.9" fill="#ff8000" stroke="#ff8000" stroke-width="1.5" stroke-linejoin="round"/>
<polygon points="1966.1,1320.2 1966.2,1319.0 1966.3,1317.8 1966.5,1316.6 1966.9,1315.4 1967.2,1314.3 1967.6,1313.1 1968.0,1311.9 1968.3,1310.7 1968.7,1309.6 1969.1,1308.4 1969.7,1307.8 1970.8,1308.4 1971.9,1308.9 1973.0,1309.5 1973.4,1310.7 1973.8,1311.8 1974.2,1313.0 1974.6,1314.1 1975.0,1315.2 1975.3,1316.4 1975.7,1317.5 1976.1,1318.7 1976.5,1319.8 1976.6,1320.2" fill="#ff8000" stroke="#ff8000" stroke-width="1.5" stroke-linejoin="round"/>
<polygon points="1992.4,1394.3 1992.6,1395.5 1992.8,1396.7 1993.1,1397.9 1993.3,1399.1 1993.5,1400.3 1993.7,1401.5 1993.9,1402.7 1994.1,1403.8 1994.4,1405.0 1994.6,1406.2 1994.8,1407.4 1995.0,1408.6 1995.3,1409.8 1995.6,1411.0 1995.9,1412.1 1996.2,1413.3 1996.5,1414.5 1996.8,1415.7 1997.1,1416.9 1997.4,1418.0 1997.7,1419.2 1998.0,1419.6 1998.4,1418.5 1998.8,1417.3 1999.2,1416.2 1999.5,1415.1 1999.9,1413.9 2000.3,1412.8 2000.7,1411.6 2001.1,1410.5 2001.4,1409.4 2001.7,1408.2 2001.8,1407.0 2001.9,1405.8 2002.0,1404.6 2002.1,1403.4 2002.2,1402.2 2002.3,1401.0 2002.4,1399.8 2002.5,1398.6 2002.6,1397.4 2002.7,1396.2 2002.8,1395.0 2002.9,1394.2" fill="#ff8000" stroke="#ff8000" stroke-width="1.5" stroke-linejoin="round"/>
<polygon points="2039.5,1300.8 2039.7,1299.7 2039.9,1298.5 2040.1,1297.3 2040.4,1296.1 2040.6,1294.9 2040.8,1293.7 2041.0,1292.6 2041.2,1291.4 2041.4,1290.2 2041.6,1289.0 2042.4,1288.1 2043.5,1287.4 2044.5,1286.7 2044.9,1287.9 2045.3,1289.0 2045.7,1290.2 2046.1,1291.4 2046.5,1292.5 2046.9,1293.7 2047.3,1294.9 2047.6,1296.1 2048.0,1297.2 2048.3,1298.4 2048.3,1299.6 2048.3,1300.8 2048.4,1302.0 2048.4,1303.2 2048.4,1303.6" fill="#ff8000" stroke="#ff8000" stroke-width="1.5" stroke-linejoin="round"/>
<polygon points="2084.1,1300.9 2084.6,1299.8 2085.0,1298.7 2085.5,1297.5 2086.0,1296.4 2086.4,1295.3 2086.9,1294.2 2087.4,1293.1 2087.9,1291.9 2088.4,1290.8 2088.8,1289.7 2089.3,1288.6 2089.6,1287.4 2090.0,1286.2 2090.3,1285.1 2090.6,1283.9 2090.9,1282.7 2091.3,1281.5 2091.6,1280.3 2091.9,1279.1 2092.2,1278.0 2092.6,1276.8 2092.9,1275.6 2093.2,1276.0 2093.4,1277.2 2093.7,1278.4 2094.0,1279.5 2094.2,1280.7 2094.5,1281.9 2094.8,1283.1 2095.0,1284.3 2095.3,1285.4 2095.6,1286.6 2095.8,1287.8 2096.0,1289.0 2096.1,1290.2 2096.1,1291.4 2096.1,1292.6 2096.2,1293.8 2096.2,1295.0 2096.2,1296.2 2096.3,1297.4 2096.3,1298.6 2096.4,1299.8 2096.4,1301.0 2096.4,1301.0" fill="#ff8000" stroke="#ff8000" stroke-width="1.5" stroke-linejoin="round"/>
</g>
<polygon points="2082.5,270 2092.8,225.5 2098,270" fill="#000"/>
<g stroke-dasharray="10.2 9.4" fill="none">
<line x1="664.6" y1="125.0" x2="664.6" y2="1558.3" stroke="#151515" stroke-width="3.5"/>
<line x1="732.9" y1="122.6" x2="732.9" y2="1558.3" stroke="#4a4a4a" stroke-width="4.4"/>
<line x1="774.4" y1="125.0" x2="774.4" y2="1558.3" stroke="#4a4a4a" stroke-width="4.4"/>
<line x1="1417.7" y1="115.5" x2="1417.7" y2="1558.3" stroke="#333" stroke-width="4.0"/>
<line x1="1456.5" y1="117.9" x2="1456.5" y2="1558.3" stroke="#444" stroke-width="4.2"/>
<line x1="1495.2" y1="115.0" x2="1495.2" y2="1558.3" stroke="#444" stroke-width="4.2"/>
<line x1="1527.1" y1="112.0" x2="1527.1" y2="1558.3" stroke="#222" stroke-width="3.7"/>
<line x1="1556.7" y1="122.6" x2="1556.7" y2="1558.3" stroke="#0a0a0a" stroke-width="3.5"/>
<line x1="1592.0" y1="122.6" x2="1592.0" y2="1558.3" stroke="#151515" stroke-width="3.6"/>
<line x1="1621.2" y1="121.4" x2="1621.2" y2="1558.3" stroke="#0a0a0a" stroke-width="3.5"/>
<line x1="1663.4" y1="117.9" x2="1663.4" y2="1558.3" stroke="#444" stroke-width="4.2"/>
<line x1="2038.1" y1="117.9" x2="2038.1" y2="1558.3" stroke="#333" stroke-width="4.0"/>
<line x1="2057.2" y1="115.5" x2="2057.2" y2="1558.3" stroke="#151515" stroke-width="3.5"/>
<line x1="2073.5" y1="115.5" x2="2073.5" y2="1558.3" stroke="#151515" stroke-width="3.5"/>
<rect x="383.3" y="152.4" width="68.4" height="148.8" stroke="#333" stroke-width="3.5" stroke-dasharray="9.3 9.3"/>
</g>
<g stroke="#151515" stroke-width="2.5" fill="#000">
<line x1="423.8" y1="195.2" x2="355.2" y2="262.6"/>
<polygon stroke="none" points="331.0,286.4 349.8,252.8 365.0,268.2"/>
<line x1="1456.2" y1="177.6" x2="1328.3" y2="242.6"/>
<polygon stroke="none" points="1298.0,258.0 1326.1,231.6 1335.9,250.9"/>
<line x1="1495.2" y1="237.6" x2="1366.3" y2="305.5"/>
<polygon stroke="none" points="1336.2,321.4 1363.9,294.6 1374.0,313.7"/>
<line x1="1527.6" y1="279.5" x2="1366.1" y2="366.3"/>
<polygon stroke="none" points="1336.2,382.4 1363.7,355.4 1373.9,374.4"/>
<line x1="1556.7" y1="123.8" x2="1467.6" y2="73.7"/>
<polygon stroke="none" points="1438.0,57.0 1475.5,65.7 1464.9,84.6"/>
<line x1="1591.7" y1="125.0" x2="1637.1" y2="80.7"/>
<polygon stroke="none" points="1661.4,57.0 1642.5,90.6 1627.4,75.1"/>
<line x1="1619.0" y1="165.5" x2="1700.1" y2="112.6"/>
<polygon stroke="none" points="1728.6,94.0 1703.5,123.3 1691.7,105.2"/>
<line x1="2057.4" y1="190.5" x2="1963.9" y2="284.8"/>
<polygon stroke="none" points="1940.0,309.0 1958.4,275.1 1973.7,290.3"/>
<line x1="2073.4" y1="433.4" x2="1981.4" y2="433.4"/>
<polygon stroke="none" points="1943.4,433.4 1984.4,422.6 1984.4,444.2"/>
</g>
<g stroke="#000" fill="none">
<line x1="74.5" y1="1560.3" x2="2107.6" y2="1560.3" stroke-width="5.6"/>
<line x1="77.6" y1="1560.3" x2="77.6" y2="1592.6" stroke-width="6.4"/>
<line x1="227.3" y1="1560.3" x2="227.3" y2="1576.3" stroke-width="5.6"/>
<line x1="378.4" y1="1560.3" x2="378.4" y2="1592.6" stroke-width="6.4"/>
<line x1="529.8" y1="1560.3" x2="529.8" y2="1576.3" stroke-width="5.6"/>
<line x1="679.6" y1="1560.3" x2="679.6" y2="1592.6" stroke-width="6.4"/>
<line x1="831.3" y1="1560.3" x2="831.3" y2="1576.3" stroke-width="5.6"/>
<line x1="982.2" y1="1560.3" x2="982.2" y2="1592.6" stroke-width="6.4"/>
<line x1="1131.6" y1="1560.3" x2="1131.6" y2="1576.3" stroke-width="5.6"/>
<line x1="1283.6" y1="1560.3" x2="1283.6" y2="1592.6" stroke-width="6.4"/>
<line x1="1434.9" y1="1560.3" x2="1434.9" y2="1576.3" stroke-width="5.6"/>
<line x1="1584.3" y1="1560.3" x2="1584.3" y2="1592.6" stroke-width="6.4"/>
<line x1="1735.4" y1="1560.3" x2="1735.4" y2="1576.3" stroke-width="5.6"/>
<line x1="1887.7" y1="1560.3" x2="1887.7" y2="1592.6" stroke-width="6.4"/>
<line x1="2039.3" y1="1560.3" x2="2039.3" y2="1576.3" stroke-width="5.6"/>
</g>
<text class="n" x="248.0" y="323.0" textLength="95.9" lengthAdjust="spacing">3439</text>
<text class="n" x="564.0" y="281.0" textLength="96.1" lengthAdjust="spacing">3026</text>
<text class="n" x="690.8" y="116.2" textLength="93.5" lengthAdjust="spacing">2926</text>
<text class="n" x="778.3" y="281.0" textLength="92.5" lengthAdjust="spacing">2847</text>
<text class="n" x="1317.8" y="157.3" textLength="91.9" lengthAdjust="spacing">1778</text>
<text class="n" x="1208.0" y="280.7" textLength="90.0" lengthAdjust="spacing">1718</text>
<text class="n" x="1237.0" y="345.2" textLength="94.8" lengthAdjust="spacing">1653</text>
<text class="n" x="1240.6" y="410.0" textLength="92.5" lengthAdjust="spacing">1602</text>
<text class="n" x="1348.0" y="70.2" textLength="89.5" lengthAdjust="spacing">1539</text>
<text class="n" x="1661.0" y="54.0" textLength="90.7" lengthAdjust="spacing">1491</text>
<text class="n" x="1727.2" y="112.4" textLength="95.3" lengthAdjust="spacing">1446</text>
<text class="n" x="1676.0" y="190.5" textLength="96.1" lengthAdjust="spacing">1378</text>
<text class="n" x="1964.0" y="181.2" textLength="68.5" lengthAdjust="spacing">753</text>
<text class="n" x="1865.0" y="333.0" textLength="67.7" lengthAdjust="spacing">722</text>
<text class="n" x="1868.0" y="449.4" textLength="68.1" lengthAdjust="spacing">693</text>
<text class="t" x="16.2" y="1655.0" textLength="121.3" lengthAdjust="spacing">4000</text>
<text class="t" x="319.0" y="1655.0" textLength="118.5" lengthAdjust="spacing">3500</text>
<text class="t" x="619.0" y="1655.0" textLength="122.1" lengthAdjust="spacing">3000</text>
<text class="t" x="920.8" y="1655.0" textLength="121.7" lengthAdjust="spacing">2500</text>
<text class="t" x="1224.4" y="1655.0" textLength="118.7" lengthAdjust="spacing">2000</text>
<text class="t" x="1526.6" y="1655.0" textLength="119.1" lengthAdjust="spacing">1500</text>
<text class="t" x="1825.0" y="1655.0" textLength="122.9" lengthAdjust="spacing">1000</text>
<text class="l" x="131.0" y="157.0" style="fill:#000">a</text>
<text class="l" x="132.0" y="402.5" style="fill:#ff0000">b</text>
<text class="l" x="138.5" y="542.0" style="fill:#0000ff">c</text>
<text class="l" x="130.5" y="680.8" style="fill:#00ff00">d</text>
<text class="l" x="131.5" y="961.3" style="fill:#ff00ff">e</text>
<text class="l" x="130.5" y="1092.5" style="fill:#808000">f</text>
<text class="l" x="130.5" y="1209.0" style="fill:#ff8000">g</text>
<text x="829.5" y="1751.4" font-size="72" textLength="527.5" lengthAdjust="spacing">Wavenumber/cm</text>
<text x="1357.5" y="1712.5" font-size="43" textLength="34.5" lengthAdjust="spacing">-1</text>
</g>
</svg></body></html>
